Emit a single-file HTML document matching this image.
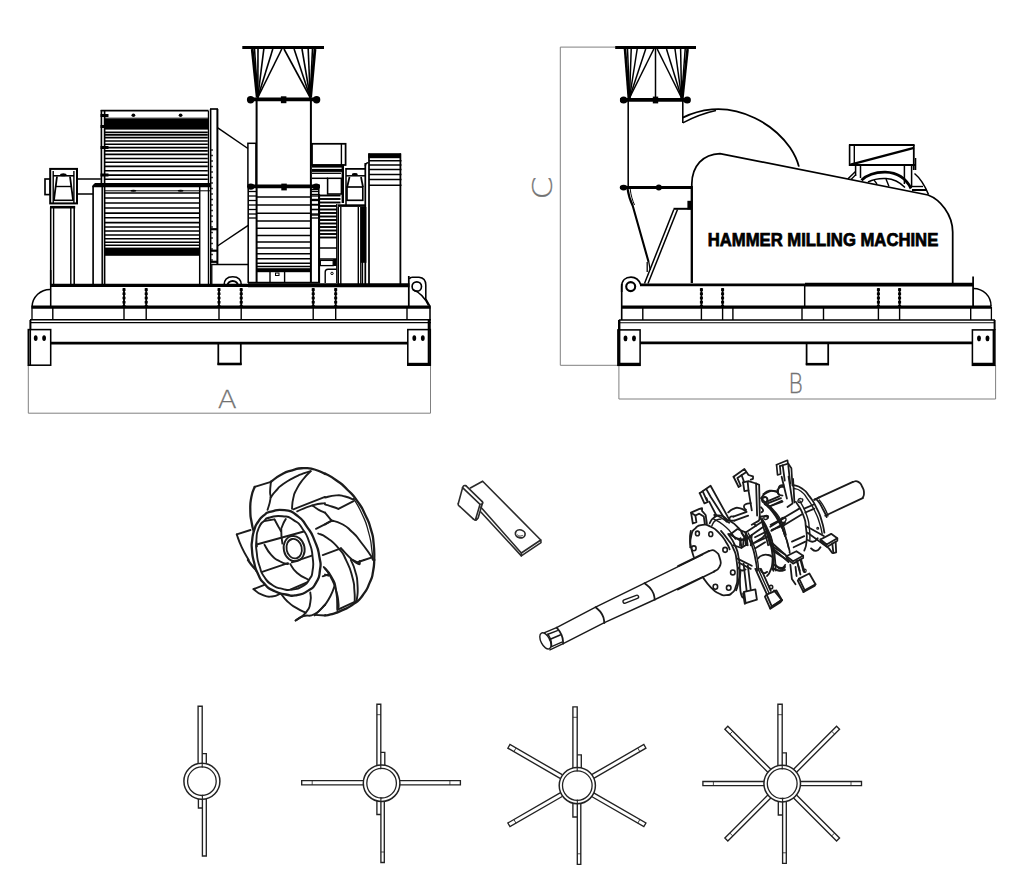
<!DOCTYPE html>
<html lang="en"><head><meta charset="utf-8"><title>Hammer Milling Machine</title>
<style>
html,body{margin:0;padding:0;background:#fff;}
body{width:1024px;height:893px;overflow:hidden;}
svg{display:block;}
svg *{vector-effect:none;}
.k{stroke:#000;fill:none;stroke-linecap:butt;stroke-linejoin:miter;}
.g{stroke:#808080;fill:none;stroke-width:1;}
.f{fill:#000;stroke:none;}
.w{fill:#fff;}
text{font-family:"Liberation Sans",sans-serif;}
</style></head><body>
<svg width="1024" height="893" viewBox="0 0 1024 893">
<rect x="0" y="0" width="1024" height="893" fill="#fff"/>
<g id="machineA">
<line class="g" x1="28.3" y1="365" x2="28.3" y2="413.2" stroke-width="1" />
<line class="g" x1="430.5" y1="365" x2="430.5" y2="413.2" stroke-width="1" />
<line class="g" x1="28.3" y1="413.2" x2="430.5" y2="413.2" stroke-width="1" />
<text transform="translate(227.3,407.8) scale(1.07,0.98)" x="0" y="0" text-anchor="middle" fill="#727272" stroke="#727272" stroke-width="0.3" style="font-family:'DejaVu Sans Light','DejaVu Sans','Liberation Sans',sans-serif;font-weight:200;font-size:26px">A</text>
<line class="k" x1="50" y1="285.3" x2="248" y2="285.3" stroke-width="3.2" />
<line class="k" x1="248" y1="285.2" x2="409.5" y2="285.2" stroke-width="4.1" />
<line class="k" x1="50.7" y1="270" x2="50.7" y2="307" stroke-width="1.55" />
<path class="k" d="M50.7,289.4 A18,18 0 0 0 32,307" stroke-width="1.5" />
<line class="k" x1="31.5" y1="307.15" x2="430.5" y2="307.15" stroke-width="3.2" />
<line class="k" x1="32" y1="307" x2="32" y2="320" stroke-width="1.3" />
<line class="k" x1="52.8" y1="307" x2="52.8" y2="320" stroke-width="1.4" />
<line class="k" x1="30" y1="319.85" x2="431" y2="319.85" stroke-width="1.5" />
<line class="k" x1="30" y1="322.65" x2="431" y2="322.65" stroke-width="1.15" />
<line class="k" x1="30.4" y1="320" x2="30.4" y2="330" stroke-width="2" />
<rect class="k" x="28.3" y="329.6" width="22.4" height="35.6" stroke-width="1.55"/>
<line class="k" x1="30.2" y1="329.6" x2="30.2" y2="365.2" stroke-width="1.75" />
<ellipse class="f" cx="35.7" cy="338.1" rx="1.9" ry="2.9"/>
<ellipse class="f" cx="44.1" cy="338.1" rx="1.9" ry="2.9"/>
<line class="k" x1="50.7" y1="343.1" x2="408" y2="343.1" stroke-width="2.6" />
<line class="k" x1="218.3" y1="344" x2="218.3" y2="365" stroke-width="1.75" />
<line class="k" x1="240.8" y1="344" x2="240.8" y2="365" stroke-width="1.75" />
<line class="k" x1="217.5" y1="364" x2="241.6" y2="364" stroke-width="2.6" />
<rect class="k" x="407.8" y="329.6" width="22.5" height="35.6" stroke-width="1.55"/>
<line class="k" x1="428.8" y1="320" x2="428.8" y2="365.2" stroke-width="2.2" />
<line class="k" x1="407.8" y1="364.2" x2="430.3" y2="364.2" stroke-width="2.8" />
<ellipse class="f" cx="414.3" cy="338.1" rx="1.9" ry="2.9"/>
<ellipse class="f" cx="422.8" cy="338.1" rx="1.9" ry="2.9"/>
<line class="k" x1="124" y1="288" x2="124" y2="306" stroke-width="1.9" />
<line class="k" x1="124" y1="288.3" x2="124" y2="306" stroke-width="3" stroke-dasharray="2.6 1.6"/>
<line class="k" x1="124" y1="308" x2="124" y2="320" stroke-width="1.4" />
<line class="k" x1="146.2" y1="288" x2="146.2" y2="306" stroke-width="1.9" />
<line class="k" x1="146.2" y1="288.3" x2="146.2" y2="306" stroke-width="3" stroke-dasharray="2.6 1.6"/>
<line class="k" x1="146.2" y1="308" x2="146.2" y2="320" stroke-width="1.4" />
<line class="k" x1="219" y1="288" x2="219" y2="306" stroke-width="1.9" />
<line class="k" x1="219" y1="288.3" x2="219" y2="306" stroke-width="3" stroke-dasharray="2.6 1.6"/>
<line class="k" x1="219" y1="308" x2="219" y2="320" stroke-width="1.4" />
<line class="k" x1="241.2" y1="288" x2="241.2" y2="306" stroke-width="1.9" />
<line class="k" x1="241.2" y1="288.3" x2="241.2" y2="306" stroke-width="3" stroke-dasharray="2.6 1.6"/>
<line class="k" x1="241.2" y1="308" x2="241.2" y2="320" stroke-width="1.4" />
<line class="k" x1="313.2" y1="288" x2="313.2" y2="306" stroke-width="1.9" />
<line class="k" x1="313.2" y1="288.3" x2="313.2" y2="306" stroke-width="3" stroke-dasharray="2.6 1.6"/>
<line class="k" x1="313.2" y1="308" x2="313.2" y2="320" stroke-width="1.4" />
<line class="k" x1="335.7" y1="288" x2="335.7" y2="306" stroke-width="1.9" />
<line class="k" x1="335.7" y1="288.3" x2="335.7" y2="306" stroke-width="3" stroke-dasharray="2.6 1.6"/>
<line class="k" x1="335.7" y1="308" x2="335.7" y2="320" stroke-width="1.4" />
<line class="k" x1="408.8" y1="276" x2="408.8" y2="307" stroke-width="1.75" />
<line class="k" x1="407" y1="308" x2="407" y2="320" stroke-width="1.4" />
<line class="k" x1="430" y1="307" x2="430" y2="330" stroke-width="1.55" />
<path class="k" d="M409.5,279 Q410,277 413,277.2 L419,277.2 Q425.8,278 425.8,285 L425.8,299 L430.3,307" stroke-width="1.55" />
<circle class="k" cx="416.8" cy="286.5" r="4.7" stroke-width="1.65"/>
<path class="k" d="M412.8,289.5 C419,292 425,298 428.5,305.5" stroke-width="1.5" />
<path class="k" d="M224,285.5 C224,279.2 227.6,276.8 232.7,276.8 C237.8,276.8 241.4,279.2 241.4,285.5" stroke-width="1.6" />
<path class="k" d="M227.6,285.5 A5.1,4.6 0 0 1 237.8,285.5" stroke-width="2.0" />
<rect class="k" x="50.2" y="168.9" width="26.8" height="34.5" stroke-width="2"/>
<rect class="k" x="45" y="179" width="5.2" height="15.6" stroke-width="1.65"/>
<line class="k" x1="53.2" y1="171" x2="53.2" y2="203" stroke-width="1.4" />
<line class="k" x1="73.9" y1="171" x2="73.9" y2="203" stroke-width="1.4" />
<line class="k" x1="53" y1="175.8" x2="74" y2="175.8" stroke-width="1.55" />
<ellipse class="f" cx="63.3" cy="174.8" rx="3.2" ry="1.5"/>
<line class="k" x1="57" y1="176.5" x2="53.9" y2="200.3" stroke-width="1.8" />
<line class="k" x1="70" y1="176.5" x2="73.1" y2="200.3" stroke-width="1.8" />
<line class="k" x1="55.5" y1="186.5" x2="71.5" y2="186.5" stroke-width="1.4" />
<line class="k" x1="53.5" y1="200.3" x2="73.5" y2="200.3" stroke-width="1.55" />
<line class="k" x1="77" y1="179" x2="100.8" y2="179" stroke-width="1.5" />
<line class="k" x1="77" y1="194" x2="93" y2="194" stroke-width="1.5" />
<line class="k" x1="50" y1="207.2" x2="75.2" y2="207.2" stroke-width="2.6" />
<line class="k" x1="53.6" y1="207" x2="53.6" y2="285" stroke-width="1.4" />
<line class="k" x1="50.7" y1="207" x2="50.7" y2="285" stroke-width="1.55" />
<line class="k" x1="70.8" y1="207" x2="70.8" y2="285" stroke-width="1.4" />
<line class="k" x1="74.2" y1="207" x2="74.2" y2="285" stroke-width="1.55" />
<line class="k" x1="101.4" y1="110" x2="101.4" y2="187" stroke-width="1.65" />
<line class="k" x1="104.6" y1="110" x2="104.6" y2="285" stroke-width="1.65" />
<line class="k" x1="100.7" y1="110.7" x2="208.5" y2="110.7" stroke-width="1.75" />
<line class="k" x1="105" y1="118.2" x2="208" y2="118.2" stroke-width="1" />
<rect class="f" x="105" y="118.8" width="103" height="10.8"/>
<line class="k" x1="105" y1="132.3" x2="207.8" y2="132.3" stroke-width="1.65" />
<line class="k" x1="105" y1="134.8" x2="207.8" y2="134.8" stroke-width="1.65" />
<line class="k" x1="105" y1="137.6" x2="207.8" y2="137.6" stroke-width="1.65" />
<line class="k" x1="105" y1="141" x2="207.8" y2="141" stroke-width="1.65" />
<line class="k" x1="105" y1="144.2" x2="207.8" y2="144.2" stroke-width="1.65" />
<line class="k" x1="105" y1="147.6" x2="207.8" y2="147.6" stroke-width="1.65" />
<line class="k" x1="105" y1="150.9" x2="207.8" y2="150.9" stroke-width="1.65" />
<line class="k" x1="105" y1="154.4" x2="207.8" y2="154.4" stroke-width="1.65" />
<line class="k" x1="105" y1="158.5" x2="207.8" y2="158.5" stroke-width="1.65" />
<line class="k" x1="105" y1="162.2" x2="207.8" y2="162.2" stroke-width="1.65" />
<line class="k" x1="105" y1="166.3" x2="207.8" y2="166.3" stroke-width="1.65" />
<line class="k" x1="105" y1="170.7" x2="207.8" y2="170.7" stroke-width="1.65" />
<line class="k" x1="105" y1="175.1" x2="207.8" y2="175.1" stroke-width="1.65" />
<line class="k" x1="105" y1="179.2" x2="207.8" y2="179.2" stroke-width="1.65" />
<path class="f" d="M92.4,188.5 L92.4,185.6 L95,183 L211,183 L211,187.3 L92.4,187.3 Z"/>
<ellipse class="f" cx="133.4" cy="115.2" rx="1.9" ry="1.7"/>
<ellipse class="f" cx="180.6" cy="115.2" rx="1.9" ry="1.7"/>
<rect class="f" x="100.5" y="114.0" width="8.0" height="3.0"/>
<rect class="f" x="100.5" y="125.0" width="8.0" height="3.0"/>
<rect class="f" x="100.5" y="146.0" width="8.0" height="3.0"/>
<rect class="f" x="100.5" y="173.5" width="8.0" height="3.0"/>
<line class="k" x1="208.4" y1="110.7" x2="208.4" y2="285" stroke-width="1.2" />
<line class="k" x1="210.6" y1="109" x2="210.6" y2="285" stroke-width="1.65" />
<line class="k" x1="217.4" y1="109" x2="217.4" y2="264.5" stroke-width="2.0" />
<line class="k" x1="211.8" y1="264" x2="211.8" y2="285" stroke-width="1.3" />
<line class="k" x1="210" y1="109" x2="218" y2="109" stroke-width="1.65" />
<line class="k" x1="211" y1="229.2" x2="217.4" y2="229.2" stroke-width="2.2" />
<line class="k" x1="211" y1="250.7" x2="217.4" y2="250.7" stroke-width="2.2" />
<line class="k" x1="211" y1="261.8" x2="217.4" y2="261.8" stroke-width="2.2" />
<line class="k" x1="211.2" y1="150" x2="212.8" y2="150" stroke-width="1.65" />
<line class="k" x1="211.2" y1="155.5" x2="212.8" y2="155.5" stroke-width="1.65" />
<line class="k" x1="211.2" y1="161.0" x2="212.8" y2="161.0" stroke-width="1.65" />
<line class="k" x1="211.2" y1="166.5" x2="212.8" y2="166.5" stroke-width="1.65" />
<line class="k" x1="211.2" y1="172.0" x2="212.8" y2="172.0" stroke-width="1.65" />
<line class="k" x1="211.2" y1="177.5" x2="212.8" y2="177.5" stroke-width="1.65" />
<line class="k" x1="211.2" y1="183.0" x2="212.8" y2="183.0" stroke-width="1.65" />
<line class="k" x1="211.2" y1="188.5" x2="212.8" y2="188.5" stroke-width="1.65" />
<line class="k" x1="211.2" y1="194.0" x2="212.8" y2="194.0" stroke-width="1.65" />
<line class="k" x1="211.2" y1="199.5" x2="212.8" y2="199.5" stroke-width="1.65" />
<line class="k" x1="211.2" y1="205.0" x2="212.8" y2="205.0" stroke-width="1.65" />
<line class="k" x1="211.2" y1="210.5" x2="212.8" y2="210.5" stroke-width="1.65" />
<line class="k" x1="211.2" y1="216.0" x2="212.8" y2="216.0" stroke-width="1.65" />
<line class="k" x1="211.2" y1="221.5" x2="212.8" y2="221.5" stroke-width="1.65" />
<line class="k" x1="211.2" y1="227.0" x2="212.8" y2="227.0" stroke-width="1.65" />
<line class="k" x1="211.2" y1="232.5" x2="212.8" y2="232.5" stroke-width="1.65" />
<line class="k" x1="211.2" y1="238.0" x2="212.8" y2="238.0" stroke-width="1.65" />
<line class="k" x1="211.2" y1="243.5" x2="212.8" y2="243.5" stroke-width="1.65" />
<line class="k" x1="211.2" y1="249.0" x2="212.8" y2="249.0" stroke-width="1.65" />
<line class="k" x1="211.2" y1="254.5" x2="212.8" y2="254.5" stroke-width="1.65" />
<line class="k" x1="211.2" y1="260.0" x2="212.8" y2="260.0" stroke-width="1.65" />
<line class="k" x1="93.1" y1="186" x2="93.1" y2="285" stroke-width="1.65" />
<line class="k" x1="199.7" y1="187" x2="199.7" y2="285" stroke-width="1.5" />
<line class="k" stroke="#777" x1="104.6" y1="190.8" x2="210.5" y2="190.8" stroke-width="1.0" />
<ellipse class="f" cx="133.4" cy="190.8" rx="3" ry="1"/>
<ellipse class="f" cx="180.6" cy="190.8" rx="3" ry="1"/>
<line class="k" x1="102.2" y1="187" x2="102.2" y2="285" stroke-width="1.5" />
<line class="k" x1="104.6" y1="192.9" x2="199.7" y2="192.9" stroke-width="1.55" />
<line class="k" x1="104.6" y1="197.9" x2="199.7" y2="197.9" stroke-width="1.55" />
<line class="k" x1="104.6" y1="203" x2="199.7" y2="203" stroke-width="1.55" />
<line class="k" x1="104.6" y1="208" x2="199.7" y2="208" stroke-width="1.55" />
<line class="k" x1="104.6" y1="213.1" x2="199.7" y2="213.1" stroke-width="1.55" />
<line class="k" x1="104.6" y1="217.8" x2="199.7" y2="217.8" stroke-width="1.55" />
<line class="k" x1="104.6" y1="222.6" x2="199.7" y2="222.6" stroke-width="1.55" />
<line class="k" x1="104.6" y1="226.9" x2="199.7" y2="226.9" stroke-width="1.55" />
<line class="k" x1="104.6" y1="231" x2="199.7" y2="231" stroke-width="1.55" />
<line class="k" x1="104.6" y1="235" x2="199.7" y2="235" stroke-width="1.55" />
<line class="k" x1="104.6" y1="238.7" x2="199.7" y2="238.7" stroke-width="1.55" />
<line class="k" x1="104.6" y1="242.2" x2="199.7" y2="242.2" stroke-width="1.55" />
<line class="k" x1="104.6" y1="245.3" x2="199.7" y2="245.3" stroke-width="1.55" />
<rect class="f" x="104.6" y="247.6" width="95.1" height="8.2"/>
<line class="k" x1="217.8" y1="127.8" x2="247.9" y2="148.5" stroke-width="1.5" />
<line class="k" x1="217.5" y1="246" x2="248.2" y2="225.3" stroke-width="1.5" />
<line class="k" x1="211.5" y1="264.4" x2="248.2" y2="264.4" stroke-width="1.5" />
<rect class="k" x="247.9" y="143.3" width="8.1" height="43.1" stroke-width="1.5"/>
<line class="k" x1="256.6" y1="99" x2="256.6" y2="283" stroke-width="2" />
<line class="k" x1="310.9" y1="99" x2="310.9" y2="283" stroke-width="2" />
<line class="k" x1="248.5" y1="99.4" x2="319.5" y2="99.4" stroke-width="3.8" />
<ellipse class="f" cx="250.6" cy="99.8" rx="3.7" ry="3.7"/>
<ellipse class="f" cx="316.6" cy="99.8" rx="3.7" ry="3.7"/>
<rect class="f" x="280.9" y="96.3" width="5.5" height="6.9"/>
<line class="k" x1="248" y1="186.4" x2="320" y2="186.4" stroke-width="3.6" />
<ellipse class="f" cx="250.8" cy="186.6" rx="3.6" ry="3.2"/>
<ellipse class="f" cx="316.2" cy="186.6" rx="3.6" ry="3.2"/>
<rect class="f" x="281.3" y="183.6" width="5.5" height="6.8"/>
<line class="k" x1="242.3" y1="47.6" x2="324" y2="47.6" stroke-width="3" />
<line class="k" x1="252.2" y1="49" x2="257.2" y2="97.5" stroke-width="2.8" />
<line class="k" x1="315" y1="49" x2="310.6" y2="97.5" stroke-width="2.8" />
<line class="k" x1="254.5" y1="49" x2="257.8" y2="97.5" stroke-width="1.6" />
<line class="k" x1="258" y1="49" x2="257.8" y2="97.5" stroke-width="1.6" />
<line class="k" x1="263.8" y1="49" x2="257.8" y2="97.5" stroke-width="1.6" />
<line class="k" x1="272.8" y1="49" x2="257.8" y2="97.5" stroke-width="1.6" />
<line class="k" x1="281.8" y1="49" x2="257.8" y2="97.5" stroke-width="1.6" />
<line class="k" x1="284" y1="49" x2="310.2" y2="97.5" stroke-width="1.6" />
<line class="k" x1="294.1" y1="49" x2="310.2" y2="97.5" stroke-width="1.6" />
<line class="k" x1="302" y1="49" x2="310.2" y2="97.5" stroke-width="1.6" />
<line class="k" x1="308.2" y1="49" x2="310.2" y2="97.5" stroke-width="1.6" />
<line class="k" x1="312.5" y1="49" x2="310.2" y2="97.5" stroke-width="1.6" />
<line class="k" x1="248.2" y1="186" x2="248.2" y2="283" stroke-width="1.55" />
<line class="k" x1="318.8" y1="186" x2="318.8" y2="283" stroke-width="1.55" />
<line class="k" x1="256.6" y1="197" x2="310.9" y2="197" stroke-width="1.5" />
<line class="k" x1="256.6" y1="205" x2="310.9" y2="205" stroke-width="1.5" />
<line class="k" x1="256.6" y1="213.3" x2="310.9" y2="213.3" stroke-width="1.5" />
<line class="k" x1="256.6" y1="221" x2="310.9" y2="221" stroke-width="1.5" />
<line class="k" x1="256.6" y1="228.3" x2="310.9" y2="228.3" stroke-width="1.5" />
<line class="k" x1="256.6" y1="235.5" x2="310.9" y2="235.5" stroke-width="1.5" />
<line class="k" x1="256.6" y1="242" x2="310.9" y2="242" stroke-width="1.5" />
<line class="k" x1="256.6" y1="248" x2="310.9" y2="248" stroke-width="1.5" />
<line class="k" x1="256.6" y1="253.7" x2="310.9" y2="253.7" stroke-width="1.5" />
<line class="k" x1="256.6" y1="258.8" x2="310.9" y2="258.8" stroke-width="1.5" />
<line class="k" x1="256.6" y1="263.2" x2="310.9" y2="263.2" stroke-width="1.5" />
<line class="k" x1="256.6" y1="266.6" x2="310.9" y2="266.6" stroke-width="1.5" />
<rect class="f" x="256.6" y="268.2" width="54.3" height="4.0"/>
<line class="k" x1="248.2" y1="191.5" x2="256.6" y2="191.5" stroke-width="1.3" />
<line class="k" x1="310.9" y1="191.5" x2="318.8" y2="191.5" stroke-width="1.3" />
<line class="k" x1="248.2" y1="196" x2="256.6" y2="196" stroke-width="1.3" />
<line class="k" x1="310.9" y1="196" x2="318.8" y2="196" stroke-width="1.3" />
<line class="k" x1="248.2" y1="200.5" x2="256.6" y2="200.5" stroke-width="1.3" />
<line class="k" x1="310.9" y1="200.5" x2="318.8" y2="200.5" stroke-width="1.3" />
<line class="k" x1="248.2" y1="205" x2="256.6" y2="205" stroke-width="1.3" />
<line class="k" x1="310.9" y1="205" x2="318.8" y2="205" stroke-width="1.3" />
<line class="k" x1="248.2" y1="209.5" x2="256.6" y2="209.5" stroke-width="1.3" />
<line class="k" x1="310.9" y1="209.5" x2="318.8" y2="209.5" stroke-width="1.3" />
<line class="k" x1="248.2" y1="214" x2="256.6" y2="214" stroke-width="1.3" />
<line class="k" x1="310.9" y1="214" x2="318.8" y2="214" stroke-width="1.3" />
<line class="k" x1="248.2" y1="218" x2="256.6" y2="218" stroke-width="1.3" />
<line class="k" x1="310.9" y1="218" x2="318.8" y2="218" stroke-width="1.3" />
<line class="k" x1="270" y1="272" x2="270" y2="283" stroke-width="1.4" />
<line class="k" x1="284.6" y1="272" x2="284.6" y2="283" stroke-width="1.4" />
<line class="k" x1="248" y1="282.6" x2="320" y2="282.6" stroke-width="1.75" />
<rect class="k" x="275.5" y="273" width="3.5" height="2.5" stroke-width="1"/>
<rect class="k" x="312" y="143.8" width="33.6" height="21.2" stroke-width="1.75"/>
<line class="k" x1="341.4" y1="144" x2="341.4" y2="165" stroke-width="1.4" />
<rect class="f" x="312" y="164.4" width="32" height="3.2"/>
<rect class="f" x="312" y="168.9" width="32" height="3.0"/>
<line class="k" x1="312" y1="173.3" x2="341" y2="173.3" stroke-width="1.3" />
<line class="k" x1="312" y1="178.3" x2="328" y2="178.3" stroke-width="1.5" />
<rect class="k" x="327.6" y="178.3" width="13.8" height="15.7" stroke-width="1.55"/>
<line class="k" x1="342.8" y1="165" x2="342.8" y2="203" stroke-width="2.4" />
<line class="k" x1="311" y1="189.5" x2="318.8" y2="189.5" stroke-width="1.4" />
<line class="k" x1="311" y1="194.5" x2="318.8" y2="194.5" stroke-width="1.4" />
<line class="k" x1="311" y1="199.5" x2="318.8" y2="199.5" stroke-width="1.4" />
<line class="k" x1="311" y1="204.5" x2="318.8" y2="204.5" stroke-width="1.4" />
<line class="k" x1="311" y1="209.5" x2="318.8" y2="209.5" stroke-width="1.4" />
<line class="k" x1="311" y1="215" x2="318.8" y2="215" stroke-width="1.4" />
<line class="k" x1="319.6" y1="195.5" x2="340.5" y2="195.5" stroke-width="1.9" />
<line class="k" x1="319.6" y1="199.0" x2="340.5" y2="199.0" stroke-width="1.9" />
<line class="k" x1="319.6" y1="202.5" x2="340.5" y2="202.5" stroke-width="1.9" />
<line class="k" x1="319.6" y1="206" x2="337" y2="206" stroke-width="1.9" />
<line class="k" x1="319.6" y1="209.5" x2="337" y2="209.5" stroke-width="1.9" />
<line class="k" x1="319.6" y1="213.0" x2="337" y2="213.0" stroke-width="1.9" />
<line class="k" x1="319.6" y1="216.5" x2="337" y2="216.5" stroke-width="1.9" />
<line class="k" x1="319.6" y1="220.0" x2="337" y2="220.0" stroke-width="1.9" />
<line class="k" x1="319.6" y1="223.5" x2="337" y2="223.5" stroke-width="1.9" />
<line class="k" x1="319.6" y1="227.0" x2="337" y2="227.0" stroke-width="1.9" />
<line class="k" x1="319.6" y1="230.5" x2="337" y2="230.5" stroke-width="1.9" />
<line class="k" x1="319.6" y1="234.0" x2="337" y2="234.0" stroke-width="1.9" />
<line class="k" x1="319.6" y1="237.5" x2="337" y2="237.5" stroke-width="1.9" />
<line class="k" x1="319.4" y1="194" x2="319.4" y2="283" stroke-width="1.4" />
<line class="k" x1="336.8" y1="204" x2="336.8" y2="283" stroke-width="1.4" />
<line class="k" x1="319.6" y1="248" x2="337" y2="248" stroke-width="1.5" />
<line class="k" x1="319.6" y1="259" x2="337" y2="259" stroke-width="1.5" />
<rect class="k" x="320.3" y="260.4" width="12.9" height="5.2" stroke-width="1.3"/>
<rect class="f" x="333.2" y="259" width="3.3" height="7"/>
<path class="k" d="M325.2,283 L325.2,272 Q325.2,269.2 328,269.2 L336.5,269.2" stroke-width="1.4" />
<circle class="k" cx="332" cy="273.4" r="1.2" stroke-width="1"/>
<line class="k" x1="345.6" y1="168.9" x2="365.5" y2="168.9" stroke-width="1.75" />
<line class="k" x1="346" y1="175.8" x2="365" y2="175.8" stroke-width="1.5" />
<ellipse class="f" cx="354.8" cy="174.4" rx="3" ry="1.4"/>
<line class="k" x1="349.5" y1="177" x2="347.2" y2="187" stroke-width="1.75" />
<line class="k" x1="361" y1="177" x2="363" y2="187" stroke-width="1.75" />
<rect class="k" x="347" y="187" width="15.8" height="13.3" stroke-width="1.65"/>
<line class="k" x1="338" y1="205.6" x2="366" y2="205.6" stroke-width="2.6" />
<line class="k" x1="346" y1="168" x2="346" y2="205" stroke-width="1.5" />
<line class="k" x1="365.3" y1="163" x2="365.3" y2="285" stroke-width="1.75" />
<path class="k" d="M365.3,166 Q365.5,162.8 368.3,162.6" stroke-width="1.4" />
<line class="k" x1="338.3" y1="207" x2="338.3" y2="285" stroke-width="1.4" />
<line class="k" x1="340.8" y1="207" x2="340.8" y2="285" stroke-width="1.4" />
<line class="k" x1="358.3" y1="207" x2="358.3" y2="285" stroke-width="1.4" />
<line class="k" x1="360.8" y1="207" x2="360.8" y2="285" stroke-width="1.4" />
<rect class="f" x="360.8" y="207" width="5.6" height="55.8"/>
<line class="k" x1="362.5" y1="262" x2="362.5" y2="285" stroke-width="1.3" />
<line class="k" x1="369" y1="153.5" x2="369" y2="285" stroke-width="1.75" />
<line class="k" x1="400.4" y1="153.5" x2="400.4" y2="285" stroke-width="1.8" />
<rect class="f" x="368.3" y="153.2" width="32.7" height="5.0"/>
<line class="k" x1="369" y1="160.8" x2="401.5" y2="160.8" stroke-width="1.5" />
<line class="k" x1="369" y1="165.1" x2="401.5" y2="165.1" stroke-width="1.5" />
<line class="k" x1="369" y1="169.6" x2="401.5" y2="169.6" stroke-width="1.5" />
<line class="k" x1="369" y1="174.5" x2="401.5" y2="174.5" stroke-width="1.5" />
<line class="k" x1="369" y1="179.6" x2="401.5" y2="179.6" stroke-width="1.5" />
<line class="k" x1="369" y1="185.2" x2="401.5" y2="185.2" stroke-width="1.5" />
</g>
<g id="machineB">
<line class="g" x1="560.3" y1="47.1" x2="560.3" y2="365.3" stroke-width="1" />
<line class="g" x1="560.3" y1="47.1" x2="615.5" y2="47.1" stroke-width="1" />
<line class="g" x1="560.3" y1="365.3" x2="618.9" y2="365.3" stroke-width="1" />
<line class="g" x1="618.9" y1="365.3" x2="618.9" y2="399" stroke-width="1" />
<line class="g" x1="995.6" y1="365.3" x2="995.6" y2="399" stroke-width="1" />
<line class="g" x1="618.9" y1="399" x2="995.6" y2="399" stroke-width="1" />
<text transform="translate(795.5,393) scale(0.88,1.03)" x="0" y="0" text-anchor="middle" fill="#727272" stroke="#727272" stroke-width="0.3" style="font-family:'DejaVu Sans Light','DejaVu Sans','Liberation Sans',sans-serif;font-weight:200;font-size:25.5px">B</text>
<text transform="translate(551.6,187.9) rotate(-90) scale(1.22,0.97)" x="0" y="0" text-anchor="middle" fill="#727272" stroke="#727272" stroke-width="0.3" style="font-family:'DejaVu Sans Light','DejaVu Sans','Liberation Sans',sans-serif;font-weight:200;font-size:27px">C</text>
<line class="k" x1="640" y1="284.8" x2="805" y2="284.8" stroke-width="2.7" />
<line class="k" x1="805" y1="284.6" x2="973" y2="284.6" stroke-width="3.6" />
<line class="k" x1="621.7" y1="284" x2="621.7" y2="320" stroke-width="1.65" />
<line class="k" x1="621.5" y1="307.15" x2="991.6" y2="307.15" stroke-width="3.2" />
<line class="k" x1="618.9" y1="319.9" x2="995" y2="319.9" stroke-width="1.5" />
<line class="k" x1="618.9" y1="322.7" x2="995" y2="322.7" stroke-width="1.15" />
<rect class="k" x="617.9" y="329.9" width="22.2" height="35.4" stroke-width="1.55"/>
<line class="k" x1="619.2" y1="320" x2="619.2" y2="365.3" stroke-width="2.4" />
<line class="k" x1="617.9" y1="364.2" x2="640.1" y2="364.2" stroke-width="2.9" />
<ellipse class="f" cx="625.5" cy="338.4" rx="1.9" ry="2.8"/>
<ellipse class="f" cx="634" cy="338.4" rx="1.9" ry="2.8"/>
<line class="k" x1="640.1" y1="342.9" x2="972.4" y2="342.9" stroke-width="2.6" />
<path class="k" d="M621.7,292 L621.7,286.5 C621.7,280.5 625.5,277.2 631,277.2 C636,277.2 639,280 640.8,284.7" stroke-width="1.7" />
<circle class="k" cx="630.7" cy="286.6" r="4.5" stroke-width="2.1"/>
<line class="k" x1="642.8" y1="308" x2="642.8" y2="320" stroke-width="1.4" />
<line class="k" x1="701.4" y1="308" x2="701.4" y2="320" stroke-width="1.4" />
<line class="k" x1="722.6" y1="308" x2="722.6" y2="320" stroke-width="1.4" />
<line class="k" x1="732.9" y1="308" x2="732.9" y2="320" stroke-width="1.4" />
<line class="k" x1="802" y1="308" x2="802" y2="320" stroke-width="1.4" />
<line class="k" x1="823.5" y1="308" x2="823.5" y2="320" stroke-width="1.4" />
<line class="k" x1="878.4" y1="308" x2="878.4" y2="320" stroke-width="1.4" />
<line class="k" x1="899.6" y1="308" x2="899.6" y2="320" stroke-width="1.4" />
<line class="k" x1="970.7" y1="308" x2="970.7" y2="320" stroke-width="1.4" />
<line class="k" x1="701.4" y1="288" x2="701.4" y2="306" stroke-width="1.9" />
<line class="k" x1="701.4" y1="288.3" x2="701.4" y2="306" stroke-width="3" stroke-dasharray="2.6 1.6"/>
<line class="k" x1="722.6" y1="288" x2="722.6" y2="306" stroke-width="1.9" />
<line class="k" x1="722.6" y1="288.3" x2="722.6" y2="306" stroke-width="3" stroke-dasharray="2.6 1.6"/>
<line class="k" x1="878.4" y1="288" x2="878.4" y2="306" stroke-width="1.9" />
<line class="k" x1="878.4" y1="288.3" x2="878.4" y2="306" stroke-width="3" stroke-dasharray="2.6 1.6"/>
<line class="k" x1="899.6" y1="288" x2="899.6" y2="306" stroke-width="1.9" />
<line class="k" x1="899.6" y1="288.3" x2="899.6" y2="306" stroke-width="3" stroke-dasharray="2.6 1.6"/>
<line class="k" x1="804.7" y1="285" x2="804.7" y2="307" stroke-width="1.5" />
<line class="k" x1="973.1" y1="276.6" x2="973.1" y2="307" stroke-width="1.75" />
<path class="k" d="M973.6,288.4 A17.5,17.5 0 0 1 991,306" stroke-width="1.5" />
<line class="k" x1="991.4" y1="307" x2="991.4" y2="320" stroke-width="1.3" />
<line class="k" x1="994.6" y1="320" x2="994.6" y2="330" stroke-width="2" />
<rect class="k" x="972.4" y="329.9" width="22.5" height="35.4" stroke-width="1.55"/>
<line class="k" x1="993.7" y1="329.9" x2="993.7" y2="365.3" stroke-width="2.2" />
<line class="k" x1="972.4" y1="364.2" x2="994.9" y2="364.2" stroke-width="2.9" />
<ellipse class="f" cx="979" cy="338.4" rx="1.9" ry="2.8"/>
<ellipse class="f" cx="987.5" cy="338.4" rx="1.9" ry="2.8"/>
<line class="k" x1="806.6" y1="344" x2="806.6" y2="365" stroke-width="1.75" />
<line class="k" x1="828.2" y1="344" x2="828.2" y2="365" stroke-width="1.75" />
<line class="k" x1="805.8" y1="364.2" x2="829" y2="364.2" stroke-width="2.6" />
<line class="k" x1="615.2" y1="47.6" x2="696" y2="47.6" stroke-width="3" />
<line class="k" x1="625" y1="49" x2="628.8" y2="98.4" stroke-width="2.6" />
<line class="k" x1="687.6" y1="49" x2="682.4" y2="98.4" stroke-width="2.6" />
<line class="k" x1="655.5" y1="49" x2="655.5" y2="98" stroke-width="1.5" />
<line class="k" x1="627.5" y1="49" x2="629.5" y2="98" stroke-width="1.5" />
<line class="k" x1="631.2" y1="49" x2="629.5" y2="98" stroke-width="1.5" />
<line class="k" x1="637.2" y1="49" x2="629.5" y2="98" stroke-width="1.5" />
<line class="k" x1="645.7" y1="49" x2="629.5" y2="98" stroke-width="1.5" />
<line class="k" x1="653.8" y1="49" x2="629.5" y2="98" stroke-width="1.5" />
<line class="k" x1="657.2" y1="49" x2="681.6" y2="98" stroke-width="1.5" />
<line class="k" x1="666.5" y1="49" x2="681.6" y2="98" stroke-width="1.5" />
<line class="k" x1="675" y1="49" x2="681.6" y2="98" stroke-width="1.5" />
<line class="k" x1="680.6" y1="49" x2="681.6" y2="98" stroke-width="1.5" />
<line class="k" x1="685.2" y1="49" x2="681.6" y2="98" stroke-width="1.5" />
<line class="k" x1="620" y1="99.8" x2="690" y2="99.8" stroke-width="3.8" />
<ellipse class="f" cx="623.6" cy="100" rx="3.7" ry="3.6"/>
<ellipse class="f" cx="687.2" cy="100" rx="3.7" ry="3.6"/>
<rect class="f" x="652.8" y="96.6" width="5.4" height="6.8"/>
<line class="k" x1="628.2" y1="99" x2="628.2" y2="188" stroke-width="1.55" />
<line class="k" x1="682.8" y1="99" x2="682.8" y2="123" stroke-width="1.55" />
<path class="k" d="M682.8,117.6 C690,114 700,110.6 712,109.4 C740,107 772,122 790,147.5 C794,153.5 797.5,161 798.9,166.6" stroke-width="1.8" />
<path class="k" d="M682.8,122.8 C692,118 702,113.5 716,110.5" stroke-width="1.4" />
<path class="k" d="M691.8,283 L691.8,184 C692,166 703,154 720,153.6 L928,195 C940,199.5 952.5,214 952.7,232 L952.7,283" stroke-width="1.75" />
<line class="k" x1="691.8" y1="186" x2="691.8" y2="283" stroke-width="2.2" />
<line class="k" x1="620" y1="187.5" x2="691.5" y2="187.5" stroke-width="3" />
<ellipse class="f" cx="623.6" cy="187.6" rx="3.8" ry="2.8"/>
<ellipse class="f" cx="658.8" cy="187.6" rx="3" ry="3"/>
<path class="k" d="M627.6,189 C628.5,196 630.5,201 632.8,206 L648.6,262" stroke-width="2.1" />
<line class="k" x1="647.2" y1="262" x2="647.2" y2="272" stroke-width="1.3" />
<line class="k" x1="648.8" y1="262" x2="650.2" y2="270" stroke-width="1.3" />
<path class="k" d="M630.2,189 C631,196 632.5,200 634.5,205" stroke-width="1.0" />
<line class="k" x1="673.8" y1="209.5" x2="644.5" y2="283.5" stroke-width="1.5" />
<line class="k" x1="677.5" y1="209.5" x2="648" y2="283.5" stroke-width="1.5" />
<line class="k" x1="673.5" y1="208.8" x2="691" y2="208.8" stroke-width="2" />
<rect class="f" x="687.4" y="200.8" width="4.4" height="8.7"/>
<line class="k" x1="849" y1="145" x2="914.6" y2="145" stroke-width="2" />
<line class="k" x1="849.5" y1="165" x2="915.5" y2="165" stroke-width="2.2" />
<line class="k" x1="849.6" y1="144.5" x2="849.6" y2="166" stroke-width="1.65" />
<line class="k" x1="854.3" y1="145" x2="854.3" y2="165" stroke-width="1.4" />
<line class="k" x1="913.8" y1="145" x2="913.8" y2="170" stroke-width="1.8" />
<line class="k" x1="915.6" y1="158" x2="915.6" y2="170" stroke-width="1.4" />
<line class="k" x1="850.5" y1="164.6" x2="914" y2="147.8" stroke-width="2.4" />
<line class="k" x1="855.6" y1="166" x2="855.6" y2="176" stroke-width="1.5" />
<line class="k" x1="860.5" y1="166" x2="860.5" y2="178" stroke-width="1.5" />
<line class="k" x1="904.4" y1="166" x2="904.4" y2="184" stroke-width="1.5" />
<line class="k" x1="911.6" y1="166" x2="911.6" y2="186" stroke-width="1.5" />
<path class="k" d="M861.5,180.3 C868,174 876,172 885.5,172.2 C897,172.6 906,178.5 911,188.5" stroke-width="2.8" />
<path class="k" d="M868,182 C874,179 880,178.3 886,178.6 C893,179 899,181.5 905,187.5" stroke-width="1.5" />
<line class="k" x1="886" y1="179" x2="889" y2="186.5" stroke-width="1.4" />
<line class="k" x1="874" y1="180" x2="877" y2="184" stroke-width="1.3" />
<path class="k" d="M848,178.8 L855.5,171.5" stroke-width="1.5" />
<path class="k" d="M851,179.5 L856,174.5" stroke-width="1.3" />
<path class="k" d="M914.5,173.5 C920,178 925,186 928.5,194.5" stroke-width="1.55" />
<line class="k" x1="911" y1="186.5" x2="923" y2="186.5" stroke-width="1.4" />
<line class="k" x1="912" y1="190" x2="927" y2="190" stroke-width="2" />
<text x="707.7" y="245.5" textLength="230.6" lengthAdjust="spacingAndGlyphs" fill="#000" stroke="#000" stroke-width="0.75" style="font-family:'Liberation Sans',sans-serif;font-weight:bold;font-size:18.2px">HAMMER MILLING MACHINE</text>
</g>
<g id="impeller">
<path d="M270.9,481.8 C274.3,479.5 273.9,478.6 281.0,474.8 C288.1,470.9 284.7,472.5 292.2,470.3 C299.7,468.1 295.9,468.4 303.4,468.2 C310.9,467.9 307.4,467.6 314.6,469.5 C321.8,471.5 321.5,472.5 325.0,474.0" fill="none" stroke="#1c1c1c" stroke-width="2.3" stroke-linecap="round" stroke-linejoin="round"/>
<path d="M270.91,481.84 L254.68,486.88" fill="none" stroke="#1c1c1c" stroke-width="1.9" stroke-linecap="round" stroke-linejoin="round"/>
<path d="M254.7,486.9 C253.6,490.2 252.9,489.1 251.4,496.9 C250.0,504.8 250.2,501.8 250.3,510.4 C250.4,519.0 250.5,515.6 251.7,522.7 C252.8,529.8 253.1,528.7 253.9,531.7" fill="none" stroke="#1c1c1c" stroke-width="2.3" stroke-linecap="round" stroke-linejoin="round"/>
<path d="M270.9,481.8 C270.7,485.0 270.3,485.6 270.1,491.4 C269.9,497.1 271.2,493.0 270.4,499.2 C269.5,505.3 268.5,506.3 267.6,509.8" fill="none" stroke="#1c1c1c" stroke-width="1.9" stroke-linecap="round" stroke-linejoin="round"/>
<path d="M270.7,497.5 C272.3,495.5 271.2,495.8 275.4,491.4 C279.6,486.9 276.9,488.7 283.2,484.1 C289.6,479.4 287.7,480.9 294.4,477.4 C301.1,473.8 298.0,475.5 303.4,473.4 C308.8,471.4 308.2,471.9 310.7,471.2" fill="none" stroke="#1c1c1c" stroke-width="1.9" stroke-linecap="round" stroke-linejoin="round"/>
<path d="M310.7,471.2 C308.2,473.8 308.1,473.1 303.4,479.0 C298.7,485.0 300.0,482.8 296.7,489.1 C293.3,495.5 294.9,491.5 293.3,498.1 C291.7,504.6 292.4,505.2 292.0,508.7" fill="none" stroke="#1c1c1c" stroke-width="1.9" stroke-linecap="round" stroke-linejoin="round"/>
<path d="M325.0,496.95 L293.31,509.27" fill="none" stroke="#1c1c1c" stroke-width="1.9" stroke-linecap="round" stroke-linejoin="round"/>
<path d="M325.0,503.1 C320.8,503.9 321.6,502.6 312.4,505.4 C303.1,508.1 302.3,509.3 297.2,511.3" fill="none" stroke="#1c1c1c" stroke-width="1.9" stroke-linecap="round" stroke-linejoin="round"/>
<path d="M312.4,505.4 C314.2,506.7 313.7,506.8 317.9,509.3 C322.2,511.7 322.6,511.5 325.0,512.6" fill="none" stroke="#1c1c1c" stroke-width="1.9" stroke-linecap="round" stroke-linejoin="round"/>
<path d="M236.76,534.47 L250.53,529.99" fill="none" stroke="#1c1c1c" stroke-width="1.9" stroke-linecap="round" stroke-linejoin="round"/>
<path d="M236.8,534.5 C238.4,538.8 237.8,538.8 241.8,547.4 C245.8,555.9 246.4,555.8 248.7,560.0" fill="none" stroke="#1c1c1c" stroke-width="1.9" stroke-linecap="round" stroke-linejoin="round"/>
<path d="M254.3,532.2 C254.8,534.3 254.9,533.6 255.8,538.4 C256.7,543.1 256.5,543.8 256.9,546.5" fill="none" stroke="#1c1c1c" stroke-width="1.9" stroke-linecap="round" stroke-linejoin="round"/>
<path d="M264.19,521.03 L274.27,519.35" fill="none" stroke="#1c1c1c" stroke-width="1.9" stroke-linecap="round" stroke-linejoin="round"/>
<path d="M325.0,473.4 C328.7,475.7 328.7,474.7 336.2,480.2 C343.7,485.6 340.3,482.6 347.4,489.7 C354.5,496.8 351.5,493.0 357.5,501.4 C363.4,509.8 360.8,505.5 365.3,514.9 C369.8,524.2 368.1,519.7 370.9,529.4 C373.7,539.1 372.6,533.8 373.7,544.0 C374.8,554.2 374.1,554.7 374.3,560.0" fill="none" stroke="#1c1c1c" stroke-width="2.3" stroke-linecap="round" stroke-linejoin="round"/>
<path d="M353.6,498.6 C356.4,503.7 357.0,502.7 361.9,513.8 C366.9,524.8 365.2,519.7 368.4,531.7 C371.7,543.6 370.5,540.1 371.8,549.6 C373.2,559.0 372.3,556.5 372.5,560.0" fill="none" stroke="#1c1c1c" stroke-width="1.3" stroke-linecap="round" stroke-linejoin="round"/>
<path d="M325.0,497.5 C328.7,496.8 329.5,495.7 336.2,495.4 C342.9,495.1 339.5,495.2 345.2,496.5 C350.8,497.9 350.5,498.4 353.2,499.4" fill="none" stroke="#1c1c1c" stroke-width="1.9" stroke-linecap="round" stroke-linejoin="round"/>
<path d="M353.56,501.21 L338.44,508.82" fill="none" stroke="#1c1c1c" stroke-width="1.9" stroke-linecap="round" stroke-linejoin="round"/>
<path d="M338.4,508.8 C336.2,508.0 336.2,508.0 331.7,506.5 C327.2,505.0 327.2,505.1 325.0,504.3" fill="none" stroke="#1c1c1c" stroke-width="1.9" stroke-linecap="round" stroke-linejoin="round"/>
<path d="M325.0,512.63 L331.16,520.13" fill="none" stroke="#1c1c1c" stroke-width="1.9" stroke-linecap="round" stroke-linejoin="round"/>
<path d="M331.49,520.47 L325.0,524.39" fill="none" stroke="#1c1c1c" stroke-width="1.9" stroke-linecap="round" stroke-linejoin="round"/>
<path d="M331.5,520.5 C334.9,521.7 335.0,520.3 341.8,524.0 C348.6,527.8 345.5,525.7 351.9,531.7 C358.2,537.6 354.9,534.4 360.8,542.0 C366.8,549.5 365.9,548.7 369.8,554.3 C373.7,559.9 371.7,557.3 372.6,558.8" fill="none" stroke="#1c1c1c" stroke-width="1.9" stroke-linecap="round" stroke-linejoin="round"/>
<path d="M364.19,560.0 L372.03,557.42" fill="none" stroke="#1c1c1c" stroke-width="1.9" stroke-linecap="round" stroke-linejoin="round"/>
<path d="M248.0,560.0 C249.9,562.6 249.2,562.5 253.9,567.8 C258.6,573.1 255.9,569.9 261.9,575.9 C268.0,581.9 268.7,582.6 272.0,586.0" fill="none" stroke="#1c1c1c" stroke-width="2.3" stroke-linecap="round" stroke-linejoin="round"/>
<path d="M267.55,583.52 L253.56,589.12" fill="none" stroke="#1c1c1c" stroke-width="1.9" stroke-linecap="round" stroke-linejoin="round"/>
<path d="M253.6,589.1 C256.4,591.0 255.8,592.2 261.9,594.7 C268.1,597.2 266.0,596.9 272.0,596.5 C278.1,596.1 277.4,594.6 280.1,593.6" fill="none" stroke="#1c1c1c" stroke-width="1.9" stroke-linecap="round" stroke-linejoin="round"/>
<path d="M281.0,593.6 C283.2,596.3 282.5,596.8 287.7,601.7 C292.9,606.5 290.7,604.5 296.7,608.1 C302.6,611.8 302.6,611.1 305.6,612.6" fill="none" stroke="#1c1c1c" stroke-width="1.9" stroke-linecap="round" stroke-linejoin="round"/>
<path d="M310.3,592.5 C310.3,595.8 311.8,595.8 310.3,602.5 C308.8,609.3 310.8,606.7 305.9,612.6 C300.9,618.6 299.0,617.9 295.6,620.5" fill="none" stroke="#1c1c1c" stroke-width="1.9" stroke-linecap="round" stroke-linejoin="round"/>
<path d="M295.6,620.5 C298.2,619.1 297.0,618.4 303.4,616.2 C309.7,614.1 307.4,617.8 314.6,614.0 C321.8,610.2 321.5,607.9 325.0,604.8" fill="none" stroke="#1c1c1c" stroke-width="1.9" stroke-linecap="round" stroke-linejoin="round"/>
<path d="M314.59,614.87 L325.0,615.43" fill="none" stroke="#1c1c1c" stroke-width="1.9" stroke-linecap="round" stroke-linejoin="round"/>
<path d="M374.3,560.0 C373.9,563.7 374.6,563.7 373.1,571.2 C371.7,578.7 373.2,574.6 369.8,582.4 C366.4,590.2 368.3,587.6 363.1,594.7 C357.8,601.8 361.2,598.4 354.1,603.7 C347.0,608.9 349.6,606.8 341.8,610.4 C334.0,614.0 336.2,612.8 330.6,614.4 C325.0,616.1 326.9,615.0 325.0,615.3" fill="none" stroke="#1c1c1c" stroke-width="2.3" stroke-linecap="round" stroke-linejoin="round"/>
<path d="M350.8,560.0 C352.3,563.7 353.0,563.0 355.2,571.2 C357.5,579.4 356.9,575.7 357.5,584.6 C358.1,593.6 357.8,592.4 357.0,598.1 C356.3,603.7 355.8,600.5 355.2,601.7" fill="none" stroke="#1c1c1c" stroke-width="1.9" stroke-linecap="round" stroke-linejoin="round"/>
<path d="M355.24,601.66 L338.44,609.27" fill="none" stroke="#1c1c1c" stroke-width="1.9" stroke-linecap="round" stroke-linejoin="round"/>
<path d="M325.0,568.4 C326.9,571.2 327.1,569.9 330.6,576.8 C334.1,583.7 333.0,580.5 335.6,589.1 C338.3,597.7 337.7,595.8 338.4,602.5 C339.2,609.3 338.1,607.0 337.9,609.3" fill="none" stroke="#1c1c1c" stroke-width="1.9" stroke-linecap="round" stroke-linejoin="round"/>
<path d="M325.0,574.56 L328.36,575.68" fill="none" stroke="#1c1c1c" stroke-width="1.9" stroke-linecap="round" stroke-linejoin="round"/>
<path d="M325.0,604.8 C326.9,601.8 327.4,602.1 330.6,595.8 C333.8,589.6 333.2,589.3 334.5,586.0" fill="none" stroke="#1c1c1c" stroke-width="1.9" stroke-linecap="round" stroke-linejoin="round"/>
<path d="M353.0,560.0 L357.47,562.24 L364.19,560.0" fill="none" stroke="#1c1c1c" stroke-width="1.9" stroke-linecap="round" stroke-linejoin="round"/>
<path d="M325.0,604.79 L314.59,615.43" fill="none" stroke="#1c1c1c" stroke-width="1.9" stroke-linecap="round" stroke-linejoin="round"/>
<path d="M318.2,533.5 C321.2,535.0 320.5,533.1 327.2,538.0 C333.9,542.9 332.0,540.6 338.4,548.1 C344.7,555.5 341.6,550.7 346.2,560.4 C350.9,570.1 349.7,567.1 352.4,577.2 C355.1,587.3 353.6,582.5 354.4,590.6 C355.2,598.8 354.6,597.9 354.7,601.6" fill="none" stroke="#1c1c1c" stroke-width="1.9" stroke-linecap="round" stroke-linejoin="round"/>
<path d="M322.71,555.02 L340.85,548.3" fill="none" stroke="#1c1c1c" stroke-width="1.9" stroke-linecap="round" stroke-linejoin="round"/>
<path d="M322.71,576.29 L328.53,574.39" fill="none" stroke="#1c1c1c" stroke-width="1.9" stroke-linecap="round" stroke-linejoin="round"/>
<path d="M323.8,567.1 C326.4,570.5 327.6,569.4 331.7,577.2 C335.8,585.0 334.3,579.7 336.1,590.6 C338.0,601.6 336.9,603.5 337.3,610.0" fill="none" stroke="#1c1c1c" stroke-width="1.9" stroke-linecap="round" stroke-linejoin="round"/>
<path d="M340.9,548.3 C345.9,553.1 349.6,558.4 356.0,562.6 C362.4,566.8 358.7,561.5 360.0,561.0" fill="none" stroke="#1c1c1c" stroke-width="1.9" stroke-linecap="round" stroke-linejoin="round"/>
<path d="M315.99,528.81 L331.67,520.86" fill="none" stroke="#1c1c1c" stroke-width="1.9" stroke-linecap="round" stroke-linejoin="round"/>
<path d="M252.2,540.0 C253.0,533.3 252.4,536.0 254.3,530.0 C256.2,524.0 254.7,527.0 258.0,522.0 C261.3,517.0 259.8,518.6 264.2,515.1 C268.6,511.6 264.4,513.2 271.2,511.6 C278.0,510.0 276.0,508.9 284.6,510.2 C293.2,511.5 289.5,510.0 297.0,515.5 C304.5,521.0 301.0,518.2 307.0,526.8 C313.0,535.4 310.8,531.3 314.9,541.4 C319.0,551.5 317.7,547.3 319.4,557.0 C321.1,566.7 321.0,561.9 319.9,570.5 C318.8,579.1 319.9,576.1 316.0,582.8 C312.1,589.5 314.5,586.5 308.2,590.6 C301.9,594.7 304.5,593.8 297.0,595.1 C289.5,596.4 293.7,596.0 285.8,594.5 C277.9,593.0 280.5,594.1 273.4,590.6 C266.3,587.1 269.6,589.4 264.5,583.9 C259.4,578.4 261.5,581.3 258.0,574.0 C254.5,566.7 256.0,570.0 254.0,562.0 C252.0,554.0 252.6,557.3 252.0,550.0 C251.4,542.7 251.4,546.7 252.2,540.0 Z M256.4,540.0 C257.1,531.7 256.1,534.4 258.8,528.0 C261.5,521.6 260.7,524.2 264.4,520.7 C268.1,517.2 264.0,519.0 270.0,517.5 C276.0,516.0 274.5,515.3 282.4,516.2 C290.3,517.1 286.9,515.8 293.6,520.1 C300.3,524.4 297.4,521.5 302.6,529.0 C307.8,536.5 306.0,533.2 309.3,542.5 C312.6,551.8 311.5,547.7 312.6,557.0 C313.7,566.3 313.7,563.0 312.6,570.5 C311.5,578.0 312.6,574.2 309.3,579.4 C306.0,584.6 308.2,582.7 302.6,586.1 C297.0,589.5 299.2,588.6 292.5,589.5 C285.8,590.4 289.1,590.4 282.4,588.9 C275.7,587.4 278.3,588.9 272.3,585.0 C266.3,581.1 268.8,583.5 264.5,577.2 C260.2,570.9 262.1,574.1 259.5,566.0 C256.9,557.9 257.8,561.7 256.8,553.0 C255.8,544.3 255.7,548.3 256.4,540.0 Z" fill="#fff" fill-rule="evenodd" stroke="none"/>
<clipPath id="impin"><path d="M256.4,540.0 C257.1,531.7 256.1,534.4 258.8,528.0 C261.5,521.6 260.7,524.2 264.4,520.7 C268.1,517.2 264.0,519.0 270.0,517.5 C276.0,516.0 274.5,515.3 282.4,516.2 C290.3,517.1 286.9,515.8 293.6,520.1 C300.3,524.4 297.4,521.5 302.6,529.0 C307.8,536.5 306.0,533.2 309.3,542.5 C312.6,551.8 311.5,547.7 312.6,557.0 C313.7,566.3 313.7,563.0 312.6,570.5 C311.5,578.0 312.6,574.2 309.3,579.4 C306.0,584.6 308.2,582.7 302.6,586.1 C297.0,589.5 299.2,588.6 292.5,589.5 C285.8,590.4 289.1,590.4 282.4,588.9 C275.7,587.4 278.3,588.9 272.3,585.0 C266.3,581.1 268.8,583.5 264.5,577.2 C260.2,570.9 262.1,574.1 259.5,566.0 C256.9,557.9 257.8,561.7 256.8,553.0 C255.8,544.3 255.7,548.3 256.4,540.0 Z"/></clipPath>
<g clip-path="url(#impin)"><ellipse cx="294.15" cy="548.63" rx="10.41" ry="12.77" transform="rotate(-12 294.15 548.63)" fill="none" stroke="#1c1c1c" stroke-width="1.9"/>
<ellipse cx="294.15" cy="548.63" rx="7.61" ry="9.85" transform="rotate(-12 294.15 548.63)" fill="none" stroke="#1c1c1c" stroke-width="1.8"/>
<path d="M256.64,544.49 L304.79,531.28" fill="none" stroke="#1c1c1c" stroke-width="1.9" stroke-linecap="round" stroke-linejoin="round"/>
<path d="M255.52,574.17 L288.0,563.19" fill="none" stroke="#1c1c1c" stroke-width="1.9" stroke-linecap="round" stroke-linejoin="round"/>
<path d="M291.91,562.41 L312.63,555.35" fill="none" stroke="#1c1c1c" stroke-width="1.9" stroke-linecap="round" stroke-linejoin="round"/>
<path d="M288.0,590.63 L308.15,581.89" fill="none" stroke="#1c1c1c" stroke-width="1.9" stroke-linecap="round" stroke-linejoin="round"/>
<path d="M264.5,544.7 C266.7,548.1 266.0,549.2 271.2,554.8 C276.4,560.4 274.6,558.4 280.2,561.5 C285.8,564.6 285.4,563.2 288.0,564.0" fill="none" stroke="#1c1c1c" stroke-width="1.9" stroke-linecap="round" stroke-linejoin="round"/>
<path d="M274.6,519.5 C275.7,521.6 275.8,521.8 277.9,525.7 C280.0,529.5 279.9,529.3 280.8,531.0" fill="none" stroke="#1c1c1c" stroke-width="1.9" stroke-linecap="round" stroke-linejoin="round"/>
<path d="M285.8,519.0 C284.6,521.2 283.9,521.4 282.4,525.7 C280.9,530.0 281.3,525.9 281.3,531.8 C281.3,537.8 282.0,539.7 282.4,543.6" fill="none" stroke="#1c1c1c" stroke-width="1.9" stroke-linecap="round" stroke-linejoin="round"/>
<path d="M290.2,564.0 C292.5,566.9 291.0,567.5 296.9,572.7 C302.9,577.9 304.4,577.3 308.1,579.6" fill="none" stroke="#1c1c1c" stroke-width="1.9" stroke-linecap="round" stroke-linejoin="round"/>
<path d="M280.2,593.1 C282.8,595.3 282.4,595.9 288.0,599.6 C293.6,603.3 290.6,600.8 296.9,604.3 C303.3,607.8 303.7,608.1 307.0,610.0" fill="none" stroke="#1c1c1c" stroke-width="1.9" stroke-linecap="round" stroke-linejoin="round"/>
<path d="M309.3,590.9 C309.7,593.8 310.6,593.2 310.6,599.6 C310.6,606.0 309.7,606.5 309.3,610.0" fill="none" stroke="#1c1c1c" stroke-width="1.9" stroke-linecap="round" stroke-linejoin="round"/></g>
<path d="M252.2,540.0 C253.0,533.3 252.4,536.0 254.3,530.0 C256.2,524.0 254.7,527.0 258.0,522.0 C261.3,517.0 259.8,518.6 264.2,515.1 C268.6,511.6 264.4,513.2 271.2,511.6 C278.0,510.0 276.0,508.9 284.6,510.2 C293.2,511.5 289.5,510.0 297.0,515.5 C304.5,521.0 301.0,518.2 307.0,526.8 C313.0,535.4 310.8,531.3 314.9,541.4 C319.0,551.5 317.7,547.3 319.4,557.0 C321.1,566.7 321.0,561.9 319.9,570.5 C318.8,579.1 319.9,576.1 316.0,582.8 C312.1,589.5 314.5,586.5 308.2,590.6 C301.9,594.7 304.5,593.8 297.0,595.1 C289.5,596.4 293.7,596.0 285.8,594.5 C277.9,593.0 280.5,594.1 273.4,590.6 C266.3,587.1 269.6,589.4 264.5,583.9 C259.4,578.4 261.5,581.3 258.0,574.0 C254.5,566.7 256.0,570.0 254.0,562.0 C252.0,554.0 252.6,557.3 252.0,550.0 C251.4,542.7 251.4,546.7 252.2,540.0 Z" fill="none" stroke="#1c1c1c" stroke-width="2.3" stroke-linecap="round" stroke-linejoin="round"/>
<path d="M256.4,540.0 C257.1,531.7 256.1,534.4 258.8,528.0 C261.5,521.6 260.7,524.2 264.4,520.7 C268.1,517.2 264.0,519.0 270.0,517.5 C276.0,516.0 274.5,515.3 282.4,516.2 C290.3,517.1 286.9,515.8 293.6,520.1 C300.3,524.4 297.4,521.5 302.6,529.0 C307.8,536.5 306.0,533.2 309.3,542.5 C312.6,551.8 311.5,547.7 312.6,557.0 C313.7,566.3 313.7,563.0 312.6,570.5 C311.5,578.0 312.6,574.2 309.3,579.4 C306.0,584.6 308.2,582.7 302.6,586.1 C297.0,589.5 299.2,588.6 292.5,589.5 C285.8,590.4 289.1,590.4 282.4,588.9 C275.7,587.4 278.3,588.9 272.3,585.0 C266.3,581.1 268.8,583.5 264.5,577.2 C260.2,570.9 262.1,574.1 259.5,566.0 C256.9,557.9 257.8,561.7 256.8,553.0 C255.8,544.3 255.7,548.3 256.4,540.0 Z" fill="none" stroke="#1c1c1c" stroke-width="1.9" stroke-linecap="round" stroke-linejoin="round"/>
</g>
<g id="hammer">
<path d="M470.33,488.03 L482.64,481.19 L540.75,539.98 L521.33,552.97 L480.86,507.17" fill="none" stroke="#2a2a2a" stroke-width="1.6" stroke-linecap="round" stroke-linejoin="round"/>
<path d="M480.86,511.96 L521.33,555.84 L541.02,542.58 L540.75,539.98" fill="none" stroke="#2a2a2a" stroke-width="1.6" stroke-linecap="round" stroke-linejoin="round"/>
<path d="M521.33,552.97 L521.33,555.84" fill="none" stroke="#2a2a2a" stroke-width="1.6" stroke-linecap="round" stroke-linejoin="round"/>
<ellipse cx="520.24" cy="533.83" rx="4.92" ry="3.96" transform="rotate(15 520.24 533.83)" fill="none" stroke="#2a2a2a" stroke-width="1.7"/>
<path d="M517.5,534.9 C518.2,535.3 518.0,535.8 519.5,536.0 C521.1,536.2 521.4,535.7 522.3,535.5" fill="none" stroke="#2a2a2a" stroke-width="1.0" stroke-linecap="round" stroke-linejoin="round"/>
<path d="M462.5,487.6 C463.0,487.0 462.8,486.3 463.9,485.7 C465.0,485.1 465.2,485.7 465.8,485.7" fill="none" stroke="#2a2a2a" stroke-width="1.6" stroke-linecap="round" stroke-linejoin="round"/>
<path d="M465.82,485.7 L482.23,501.56" fill="none" stroke="#2a2a2a" stroke-width="1.6" stroke-linecap="round" stroke-linejoin="round"/>
<path d="M482.2,501.6 C482.4,502.0 483.0,502.0 482.8,502.9 C482.6,503.8 482.0,503.8 481.7,504.3" fill="none" stroke="#2a2a2a" stroke-width="1.6" stroke-linecap="round" stroke-linejoin="round"/>
<path d="M463.09,488.17 L480.04,504.3" fill="none" stroke="#2a2a2a" stroke-width="1.6" stroke-linecap="round" stroke-linejoin="round"/>
<path d="M462.54,487.89 L458.3,503.48" fill="none" stroke="#2a2a2a" stroke-width="1.6" stroke-linecap="round" stroke-linejoin="round"/>
<path d="M458.3,503.5 C458.3,504.0 457.9,504.1 458.4,505.1 C458.9,506.1 459.4,506.0 459.8,506.5" fill="none" stroke="#2a2a2a" stroke-width="1.6" stroke-linecap="round" stroke-linejoin="round"/>
<path d="M459.81,506.49 L473.48,519.06" fill="none" stroke="#2a2a2a" stroke-width="1.6" stroke-linecap="round" stroke-linejoin="round"/>
<path d="M473.5,519.1 C474.1,519.4 474.2,520.2 475.4,520.2 C476.6,520.1 476.5,519.2 477.0,518.8" fill="none" stroke="#2a2a2a" stroke-width="1.6" stroke-linecap="round" stroke-linejoin="round"/>
<path d="M480.04,504.3 L475.67,519.06" fill="none" stroke="#2a2a2a" stroke-width="1.6" stroke-linecap="round" stroke-linejoin="round"/>
<path d="M482.37,503.48 L478.13,517.97 L476.49,519.61" fill="none" stroke="#2a2a2a" stroke-width="1.6" stroke-linecap="round" stroke-linejoin="round"/>
</g>
<g id="rotor">
<ellipse cx="545.44" cy="640.89" rx="4.48" ry="8.8" transform="rotate(-27 545.44 640.89)" fill="none" stroke="#1a1a1a" stroke-width="1.4"/>
<path d="M544.61,632.59 L556.56,627.61 L595.57,607.19 L644.54,583.12 L702.64,554.57" fill="none" stroke="#1a1a1a" stroke-width="1.45" stroke-linecap="round" stroke-linejoin="round"/>
<path d="M549.92,649.85 L563.2,643.71 L603.87,622.96 L654.5,599.72 L702.64,576.81" fill="none" stroke="#1a1a1a" stroke-width="1.45" stroke-linecap="round" stroke-linejoin="round"/>
<path d="M556.6,627.6 C558.2,630.0 559.3,629.5 561.5,634.9 C563.8,640.3 562.6,640.8 563.2,643.7" fill="none" stroke="#1a1a1a" stroke-width="1.8" stroke-linecap="round" stroke-linejoin="round"/>
<path d="M595.6,607.2 C597.7,609.6 599.1,609.1 602.0,614.3 C605.0,619.6 603.6,620.1 604.4,623.0" fill="none" stroke="#1a1a1a" stroke-width="1.8" stroke-linecap="round" stroke-linejoin="round"/>
<path d="M644.5,583.1 C647.0,585.6 648.6,585.1 652.0,590.6 C655.4,596.1 653.9,596.7 654.8,599.7" fill="none" stroke="#1a1a1a" stroke-width="1.8" stroke-linecap="round" stroke-linejoin="round"/>
<rect x="-8.2" y="-1.7" width="16.4" height="3.4" rx="1.7" fill="none" stroke="#1a1a1a" stroke-width="1.4" transform="translate(630.8 599.2) rotate(-21)"/>
<path d="M547.93,634.25 L557.39,630.6" fill="none" stroke="#1a1a1a" stroke-width="1.4" stroke-linecap="round" stroke-linejoin="round"/>
<path d="M549.59,639.56 L560.21,634.91" fill="none" stroke="#1a1a1a" stroke-width="1.6" stroke-linecap="round" stroke-linejoin="round"/>
<path d="M551.58,646.53 L561.87,642.22" fill="none" stroke="#1a1a1a" stroke-width="1.4" stroke-linecap="round" stroke-linejoin="round"/>
<path d="M547.9,634.2 C548.9,636.1 549.5,635.8 550.8,639.9 C552.0,644.0 551.3,644.3 551.6,646.5" fill="none" stroke="#1a1a1a" stroke-width="1.4" stroke-linecap="round" stroke-linejoin="round"/>
<path d="M690.8,530.9 C690.5,533.6 689.9,533.6 690.0,539.1 C690.1,544.6 689.8,541.3 691.1,547.3 C692.3,553.3 692.9,553.8 693.8,557.0" fill="none" stroke="#1a1a1a" stroke-width="1.8" stroke-linecap="round" stroke-linejoin="round"/>
<path d="M703.1,577.6 C705.6,580.8 705.5,582.0 710.8,587.3 C716.1,592.6 713.8,590.9 719.0,593.5 C724.1,596.0 721.7,595.4 726.1,595.1 C730.6,594.8 729.0,595.6 732.3,592.6 C735.5,589.7 734.2,591.8 735.9,586.3 C737.6,580.7 737.2,584.6 737.4,576.0 C737.7,567.5 738.0,569.9 736.6,560.6 C735.2,551.4 736.4,555.5 733.3,548.3 C730.2,541.2 731.5,544.9 727.4,539.1 C723.3,533.3 723.1,533.6 721.0,530.9" fill="none" stroke="#1a1a1a" stroke-width="1.8" stroke-linecap="round" stroke-linejoin="round"/>
<path d="M728.2,534.0 C730.4,537.7 731.4,537.4 734.9,545.2 C738.3,553.1 737.1,549.4 738.6,557.6 C740.2,565.8 739.5,562.0 739.5,569.9 C739.5,577.7 739.7,574.3 738.6,581.1 C737.6,588.0 737.0,587.3 736.2,590.4" fill="none" stroke="#1a1a1a" stroke-width="1.8" stroke-linecap="round" stroke-linejoin="round"/>
<ellipse cx="693.84" cy="548.33" rx="2.26" ry="2.46" transform="rotate(0 693.84 548.33)" fill="none" stroke="#1a1a1a" stroke-width="1.6"/>
<ellipse cx="725.12" cy="549.87" rx="2.26" ry="2.46" transform="rotate(0 725.12 549.87)" fill="none" stroke="#1a1a1a" stroke-width="1.6"/>
<ellipse cx="732.81" cy="572.43" rx="2.26" ry="2.46" transform="rotate(0 732.81 572.43)" fill="none" stroke="#1a1a1a" stroke-width="1.6"/>
<ellipse cx="715.38" cy="586.78" rx="2.26" ry="2.46" transform="rotate(0 715.38 586.78)" fill="none" stroke="#1a1a1a" stroke-width="1.6"/>
<ellipse cx="728.71" cy="587.81" rx="2.26" ry="2.46" transform="rotate(0 728.71 587.81)" fill="none" stroke="#1a1a1a" stroke-width="1.6"/>
<path d="M677.95,566.07 L709.22,550.89" fill="none" stroke="#1a1a1a" stroke-width="1.8" stroke-linecap="round" stroke-linejoin="round"/>
<path d="M677.95,589.55 L713.84,571.71" fill="none" stroke="#1a1a1a" stroke-width="1.8" stroke-linecap="round" stroke-linejoin="round"/>
<path d="M709.2,550.9 C711.3,551.1 711.8,548.7 715.4,551.4 C719.0,554.1 718.6,554.0 720.0,559.1 C721.4,564.2 721.5,562.6 719.5,566.8 C717.4,571.0 715.7,570.1 713.8,571.7" fill="none" stroke="#1a1a1a" stroke-width="1.8" stroke-linecap="round" stroke-linejoin="round"/>
<path d="M743.58,563.71 L746.65,590.89" fill="none" stroke="#1a1a1a" stroke-width="1.8" stroke-linecap="round" stroke-linejoin="round"/>
<path d="M747.88,565.76 L750.75,589.86" fill="none" stroke="#1a1a1a" stroke-width="1.8" stroke-linecap="round" stroke-linejoin="round"/>
<path d="M744.09,591.91 L755.37,589.35 L756.91,599.6 L745.63,603.19 Z" fill="none" stroke="#1a1a1a" stroke-width="1.8" stroke-linecap="round" stroke-linejoin="round"/>
<path d="M744.09,591.91 L743.06,593.65 L744.81,603.91 L745.63,603.19" fill="none" stroke="#1a1a1a" stroke-width="1.8" stroke-linecap="round" stroke-linejoin="round"/>
<path d="M740.5,570.9 C740.3,575.3 739.6,576.0 740.0,584.2 C740.3,592.4 740.2,591.4 741.5,595.5 C742.9,599.6 743.2,596.2 744.1,596.5" fill="none" stroke="#1a1a1a" stroke-width="1.8" stroke-linecap="round" stroke-linejoin="round"/>
<path d="M755.37,568.84 L767.16,594.99" fill="none" stroke="#1a1a1a" stroke-width="1.8" stroke-linecap="round" stroke-linejoin="round"/>
<path d="M761.01,568.84 L770.75,590.89" fill="none" stroke="#1a1a1a" stroke-width="1.8" stroke-linecap="round" stroke-linejoin="round"/>
<path d="M758.14,568.84 L769.01,592.94" fill="none" stroke="#1a1a1a" stroke-width="1.4" stroke-linecap="round" stroke-linejoin="round"/>
<path d="M766.65,594.68 L776.39,590.37 L782.03,600.11 L771.78,606.27 Z" fill="none" stroke="#1a1a1a" stroke-width="1.8" stroke-linecap="round" stroke-linejoin="round"/>
<path d="M766.65,594.68 L764.91,596.53 L770.24,608.63 L771.78,606.27" fill="none" stroke="#1a1a1a" stroke-width="1.8" stroke-linecap="round" stroke-linejoin="round"/>
<path d="M770.24,608.63 L780.49,602.17 L782.03,600.11" fill="none" stroke="#1a1a1a" stroke-width="1.8" stroke-linecap="round" stroke-linejoin="round"/>
<ellipse cx="771.06" cy="587.09" rx="1.64" ry="1.85" transform="rotate(0 771.06 587.09)" fill="none" stroke="#1a1a1a" stroke-width="1.6"/>
<path d="M745.6,533.0 C747.7,537.1 748.4,536.0 751.8,545.2 C755.1,554.5 753.9,552.1 755.7,560.6 C757.5,569.2 756.6,567.5 757.1,570.9" fill="none" stroke="#1a1a1a" stroke-width="1.8" stroke-linecap="round" stroke-linejoin="round"/>
<path d="M748.2,533.0 C750.1,537.1 750.8,536.4 753.8,545.2 C756.9,554.1 755.9,551.4 757.4,559.6 C759.0,567.8 758.1,566.4 758.5,569.9" fill="none" stroke="#1a1a1a" stroke-width="1.4" stroke-linecap="round" stroke-linejoin="round"/>
<path d="M767.2,533.0 C768.5,537.7 769.5,538.1 771.3,547.3 C773.0,556.5 772.8,552.8 772.5,560.6 C772.1,568.5 772.1,565.8 770.2,570.9 C768.4,576.0 768.1,574.3 767.0,576.0" fill="none" stroke="#1a1a1a" stroke-width="1.8" stroke-linecap="round" stroke-linejoin="round"/>
<path d="M769.4,533.0 C770.7,537.7 771.7,538.1 773.3,547.3 C774.9,556.5 774.5,553.1 774.1,560.6 C773.8,568.2 772.9,566.8 772.3,569.9" fill="none" stroke="#1a1a1a" stroke-width="1.4" stroke-linecap="round" stroke-linejoin="round"/>
<path d="M729.22,533.97 L740.5,540.64 L745.63,538.08 L741.53,532.95" fill="none" stroke="#1a1a1a" stroke-width="1.8" stroke-linecap="round" stroke-linejoin="round"/>
<path d="M740.5,540.64 L741.53,547.82 L745.63,545.25 L745.63,538.08" fill="none" stroke="#1a1a1a" stroke-width="1.8" stroke-linecap="round" stroke-linejoin="round"/>
<path d="M733.32,545.25 L741.53,547.82" fill="none" stroke="#1a1a1a" stroke-width="1.8" stroke-linecap="round" stroke-linejoin="round"/>
<path d="M751.78,544.23 L762.03,538.08 L765.11,535.0" fill="none" stroke="#1a1a1a" stroke-width="1.8" stroke-linecap="round" stroke-linejoin="round"/>
<path d="M755.37,548.33 L765.11,542.18" fill="none" stroke="#1a1a1a" stroke-width="1.8" stroke-linecap="round" stroke-linejoin="round"/>
<path d="M757.9,558.6 C759.3,557.6 758.6,556.7 762.0,555.5 C765.5,554.3 764.8,554.5 768.2,555.0 C771.6,555.5 770.9,556.4 772.3,557.0" fill="none" stroke="#1a1a1a" stroke-width="1.8" stroke-linecap="round" stroke-linejoin="round"/>
<path d="M772.29,546.28 L785.0,554.48" fill="none" stroke="#1a1a1a" stroke-width="1.8" stroke-linecap="round" stroke-linejoin="round"/>
<path d="M772.29,550.38 L785.0,558.58" fill="none" stroke="#1a1a1a" stroke-width="1.8" stroke-linecap="round" stroke-linejoin="round"/>
<path d="M775.4,564.7 C777.1,566.1 777.3,568.2 780.5,568.8 C783.7,569.5 783.5,567.5 785.0,566.8" fill="none" stroke="#1a1a1a" stroke-width="1.8" stroke-linecap="round" stroke-linejoin="round"/>
<path d="M774.3,568.8 C776.1,569.5 775.9,570.5 779.5,570.9 C783.0,571.2 783.2,570.2 785.0,569.9" fill="none" stroke="#1a1a1a" stroke-width="1.8" stroke-linecap="round" stroke-linejoin="round"/>
<path d="M737.42,558.58 L751.78,565.76" fill="none" stroke="#1a1a1a" stroke-width="1.8" stroke-linecap="round" stroke-linejoin="round"/>
<path d="M738.96,562.69 L750.75,568.84" fill="none" stroke="#1a1a1a" stroke-width="1.8" stroke-linecap="round" stroke-linejoin="round"/>
<path d="M738.5,567.8 C739.5,568.7 739.1,569.9 741.5,570.4 C743.9,570.9 744.3,569.7 745.6,569.4" fill="none" stroke="#1a1a1a" stroke-width="1.8" stroke-linecap="round" stroke-linejoin="round"/>
<path d="M760.0,568.8 C761.0,570.2 760.7,571.9 763.1,572.9 C765.5,574.0 765.8,572.3 767.2,571.9" fill="none" stroke="#1a1a1a" stroke-width="1.8" stroke-linecap="round" stroke-linejoin="round"/>
<path d="M690.2,547.3 C690.6,543.4 689.6,541.8 691.3,535.5 C693.0,529.2 691.6,531.8 695.4,528.3 C699.1,524.8 697.4,525.4 702.6,524.9 C707.7,524.4 705.3,524.1 710.8,526.8 C716.2,529.4 713.8,527.8 719.0,532.9 C724.1,538.1 722.6,536.7 726.1,542.2 C729.7,547.6 728.5,546.9 729.7,549.3" fill="none" stroke="#1a1a1a" stroke-width="1.8" stroke-linecap="round" stroke-linejoin="round"/>
<path d="M709.7,523.2 C711.1,521.4 710.1,520.3 713.8,517.8 C717.6,515.3 716.2,514.8 721.0,515.7 C725.8,516.7 725.8,519.0 728.2,520.6" fill="none" stroke="#1a1a1a" stroke-width="1.8" stroke-linecap="round" stroke-linejoin="round"/>
<path d="M711.8,525.8 C713.0,524.0 712.3,522.9 715.4,520.6 C718.5,518.4 719.1,519.6 721.0,519.1" fill="none" stroke="#1a1a1a" stroke-width="1.4" stroke-linecap="round" stroke-linejoin="round"/>
<ellipse cx="697.43" cy="533.45" rx="1.95" ry="2.36" transform="rotate(0 697.43 533.45)" fill="none" stroke="#1a1a1a" stroke-width="1.6"/>
<ellipse cx="710.76" cy="534.16" rx="1.95" ry="2.36" transform="rotate(0 710.76 534.16)" fill="none" stroke="#1a1a1a" stroke-width="1.6"/>
<path d="M706.87,523.5 L705.64,514.99 L702.05,510.89 L702.05,508.12 L699.48,508.84 L691.07,512.63 L692.82,523.5 L696.41,522.17 L695.38,515.5 L699.28,513.65 L703.79,516.53 L704.82,523.91" fill="none" stroke="#1a1a1a" stroke-width="1.8" stroke-linecap="round" stroke-linejoin="round"/>
<path d="M695.38,515.5 L691.07,512.63" fill="none" stroke="#1a1a1a" stroke-width="1.8" stroke-linecap="round" stroke-linejoin="round"/>
<path d="M699.69,493.15 L710.56,485.76 L729.02,519.09" fill="none" stroke="#1a1a1a" stroke-width="1.8" stroke-linecap="round" stroke-linejoin="round"/>
<path d="M699.69,493.15 L704.41,503.4 L707.89,501.96 L706.46,498.07" fill="none" stroke="#1a1a1a" stroke-width="1.8" stroke-linecap="round" stroke-linejoin="round"/>
<path d="M702.76,491.4 L706.87,500.63" fill="none" stroke="#1a1a1a" stroke-width="1.8" stroke-linecap="round" stroke-linejoin="round"/>
<path d="M706.46,489.35 L710.76,497.04 L726.66,521.65" fill="none" stroke="#1a1a1a" stroke-width="1.8" stroke-linecap="round" stroke-linejoin="round"/>
<path d="M709.22,501.66 L716.4,515.5" fill="none" stroke="#1a1a1a" stroke-width="1.8" stroke-linecap="round" stroke-linejoin="round"/>
<path d="M733.53,476.74 L744.4,469.05 L748.5,475.0 L753.01,476.33 L753.01,478.79 L750.75,479.61" fill="none" stroke="#1a1a1a" stroke-width="1.8" stroke-linecap="round" stroke-linejoin="round"/>
<path d="M733.53,476.74 L738.65,486.99 L740.71,485.76 L737.42,478.07 L745.63,472.43" fill="none" stroke="#1a1a1a" stroke-width="1.8" stroke-linecap="round" stroke-linejoin="round"/>
<path d="M741.53,475.0 L743.78,481.15" fill="none" stroke="#1a1a1a" stroke-width="1.8" stroke-linecap="round" stroke-linejoin="round"/>
<path d="M743.06,482.48 L748.5,481.15 L756.09,483.51 L759.16,484.94 L759.78,516.53" fill="none" stroke="#1a1a1a" stroke-width="1.8" stroke-linecap="round" stroke-linejoin="round"/>
<path d="M743.06,482.48 L744.4,491.1 L748.5,490.38 L747.68,481.87" fill="none" stroke="#1a1a1a" stroke-width="1.8" stroke-linecap="round" stroke-linejoin="round"/>
<path d="M748.5,490.38 L751.78,510.37" fill="none" stroke="#1a1a1a" stroke-width="1.8" stroke-linecap="round" stroke-linejoin="round"/>
<path d="M756.09,483.51 L757.11,515.5" fill="none" stroke="#1a1a1a" stroke-width="1.8" stroke-linecap="round" stroke-linejoin="round"/>
<path d="M728.2,512.4 C729.9,511.2 729.6,510.3 733.3,508.8 C737.1,507.4 735.4,507.4 739.5,508.1 C743.6,508.8 743.6,510.0 745.6,510.9" fill="none" stroke="#1a1a1a" stroke-width="1.8" stroke-linecap="round" stroke-linejoin="round"/>
<path d="M761.0,498.1 C763.1,496.2 762.4,494.7 767.2,492.4 C771.9,490.2 771.4,490.7 775.4,491.4 C779.3,492.1 777.8,493.5 779.0,494.5" fill="none" stroke="#1a1a1a" stroke-width="1.8" stroke-linecap="round" stroke-linejoin="round"/>
<ellipse cx="765.11" cy="500.12" rx="2.67" ry="2.87" transform="rotate(0 765.11 500.12)" fill="none" stroke="#1a1a1a" stroke-width="1.4"/>
<path d="M750.8,503.2 C749.0,503.5 747.9,502.9 745.6,504.2 C743.4,505.6 743.9,505.4 744.1,507.3 C744.3,509.2 745.5,509.0 746.1,509.9" fill="none" stroke="#1a1a1a" stroke-width="1.8" stroke-linecap="round" stroke-linejoin="round"/>
<path d="M778.4,488.8 C779.0,487.8 778.3,487.0 780.0,485.8 C781.7,484.6 782.4,485.4 783.6,485.2" fill="none" stroke="#1a1a1a" stroke-width="1.8" stroke-linecap="round" stroke-linejoin="round"/>
<path d="M777.4,489.9 C777.8,491.2 776.7,492.1 778.4,494.0 C780.1,495.9 781.2,495.0 782.5,495.5" fill="none" stroke="#1a1a1a" stroke-width="1.8" stroke-linecap="round" stroke-linejoin="round"/>
<path d="M761.0,507.3 C761.7,508.3 762.9,508.7 763.1,510.4 C763.2,512.1 762.0,511.7 761.5,512.4" fill="none" stroke="#1a1a1a" stroke-width="1.8" stroke-linecap="round" stroke-linejoin="round"/>
<path d="M733.32,516.53 L746.65,511.91" fill="none" stroke="#1a1a1a" stroke-width="1.8" stroke-linecap="round" stroke-linejoin="round"/>
<path d="M734.35,520.63 L748.19,515.71" fill="none" stroke="#1a1a1a" stroke-width="1.8" stroke-linecap="round" stroke-linejoin="round"/>
<path d="M733.3,516.5 C732.3,516.7 731.3,515.8 730.2,517.0 C729.2,518.2 728.7,518.9 730.0,520.1 C731.4,521.3 732.9,520.5 734.4,520.6" fill="none" stroke="#1a1a1a" stroke-width="1.8" stroke-linecap="round" stroke-linejoin="round"/>
<path d="M768.19,503.2 L781.0,498.07" fill="none" stroke="#1a1a1a" stroke-width="1.8" stroke-linecap="round" stroke-linejoin="round"/>
<path d="M769.21,506.48 L782.54,501.66" fill="none" stroke="#1a1a1a" stroke-width="1.8" stroke-linecap="round" stroke-linejoin="round"/>
<path d="M764.6,504.0 C767.2,506.1 767.3,504.8 772.3,510.4 C777.2,515.9 775.2,512.1 779.5,520.6 C783.7,529.2 783.2,530.9 785.0,536.0" fill="none" stroke="#1a1a1a" stroke-width="1.8" stroke-linecap="round" stroke-linejoin="round"/>
<path d="M767.2,504.2 C769.6,506.4 769.6,505.1 774.3,510.9 C779.1,516.7 777.6,513.6 781.5,521.6 C785.4,529.7 784.6,530.5 786.1,535.0" fill="none" stroke="#1a1a1a" stroke-width="1.4" stroke-linecap="round" stroke-linejoin="round"/>
<path d="M729.2,520.6 C732.0,522.7 732.6,521.7 737.4,526.8 C742.2,531.9 740.5,529.9 743.6,536.0 C746.7,542.2 745.6,542.2 746.6,545.2" fill="none" stroke="#1a1a1a" stroke-width="1.8" stroke-linecap="round" stroke-linejoin="round"/>
<path d="M713.8,519.1 C716.9,521.0 717.3,520.1 723.1,524.7 C728.9,529.3 727.2,528.1 731.3,532.9 C735.4,537.7 734.0,537.0 735.4,539.1" fill="none" stroke="#1a1a1a" stroke-width="1.4" stroke-linecap="round" stroke-linejoin="round"/>
<path d="M714.9,516.5 C715.5,516.2 712.1,513.5 716.9,515.5 C721.7,517.5 725.1,520.3 729.2,522.7" fill="none" stroke="#1a1a1a" stroke-width="1.8" stroke-linecap="round" stroke-linejoin="round"/>
<path d="M730.76,533.96 L737.42,529.04 L745.63,532.42 L762.03,521.65 L764.91,525.75 L751.78,534.98 L745.63,540.11 L735.37,538.06 Z" fill="none" stroke="#1a1a1a" stroke-width="1.8" stroke-linecap="round" stroke-linejoin="round"/>
<path d="M745.63,532.42 L745.63,540.11" fill="none" stroke="#1a1a1a" stroke-width="1.8" stroke-linecap="round" stroke-linejoin="round"/>
<path d="M751.78,524.73 L758.96,520.63 L759.98,516.53 L767.16,516.01 L767.67,518.06" fill="none" stroke="#1a1a1a" stroke-width="1.8" stroke-linecap="round" stroke-linejoin="round"/>
<path d="M753.83,523.7 L755.88,525.75" fill="none" stroke="#1a1a1a" stroke-width="1.8" stroke-linecap="round" stroke-linejoin="round"/>
<path d="M762.03,521.65 L768.19,545.24" fill="none" stroke="#1a1a1a" stroke-width="1.8" stroke-linecap="round" stroke-linejoin="round"/>
<path d="M764.91,525.75 L770.24,545.24" fill="none" stroke="#1a1a1a" stroke-width="1.8" stroke-linecap="round" stroke-linejoin="round"/>
<path d="M751.78,534.98 L750.75,545.24" fill="none" stroke="#1a1a1a" stroke-width="1.8" stroke-linecap="round" stroke-linejoin="round"/>
<path d="M746.65,537.03 L747.68,545.24" fill="none" stroke="#1a1a1a" stroke-width="1.8" stroke-linecap="round" stroke-linejoin="round"/>
<path d="M770.24,526.78 L785.0,517.55" fill="none" stroke="#1a1a1a" stroke-width="1.8" stroke-linecap="round" stroke-linejoin="round"/>
<path d="M771.26,530.88 L785.0,522.68" fill="none" stroke="#1a1a1a" stroke-width="1.8" stroke-linecap="round" stroke-linejoin="round"/>
<path d="M740.5,538.06 L739.99,545.24" fill="none" stroke="#1a1a1a" stroke-width="1.8" stroke-linecap="round" stroke-linejoin="round"/>
<path d="M743.58,540.11 L743.06,545.24" fill="none" stroke="#1a1a1a" stroke-width="1.8" stroke-linecap="round" stroke-linejoin="round"/>
<path d="M776.54,464.74 L787.51,460.33 L787.82,463.0 L791.41,468.33 L792.43,485.76" fill="none" stroke="#1a1a1a" stroke-width="1.7" stroke-linecap="round" stroke-linejoin="round"/>
<path d="M776.54,464.74 L777.56,475.0 L780.64,473.97 L779.92,466.07" fill="none" stroke="#1a1a1a" stroke-width="1.7" stroke-linecap="round" stroke-linejoin="round"/>
<path d="M779.92,466.07 L782.69,465.25 L784.74,480.64" fill="none" stroke="#1a1a1a" stroke-width="1.8" stroke-linecap="round" stroke-linejoin="round"/>
<path d="M782.69,465.25 L788.33,463.72" fill="none" stroke="#1a1a1a" stroke-width="1.8" stroke-linecap="round" stroke-linejoin="round"/>
<path d="M788.33,465.77 L790.18,483.71" fill="none" stroke="#1a1a1a" stroke-width="1.8" stroke-linecap="round" stroke-linejoin="round"/>
<path d="M818.07,497.86 L852.93,481.87" fill="none" stroke="#1a1a1a" stroke-width="1.8" stroke-linecap="round" stroke-linejoin="round"/>
<path d="M825.25,515.71 L862.67,498.07" fill="none" stroke="#1a1a1a" stroke-width="1.8" stroke-linecap="round" stroke-linejoin="round"/>
<path d="M852.9,481.9 C854.7,481.9 855.2,480.2 858.3,481.9 C861.3,483.5 860.2,483.1 862.2,486.8 C864.1,490.5 863.8,489.2 864.0,492.9 C864.2,496.7 863.1,496.4 862.7,498.1" fill="none" stroke="#1a1a1a" stroke-width="1.8" stroke-linecap="round" stroke-linejoin="round"/>
<path d="M781.65,476.72 L786.91,498.56" fill="none" stroke="#1a1a1a" stroke-width="1.8" stroke-linecap="round" stroke-linejoin="round"/>
<path d="M788.59,476.72 L792.51,502.47" fill="none" stroke="#1a1a1a" stroke-width="1.8" stroke-linecap="round" stroke-linejoin="round"/>
<path d="M793.07,478.96 L794.42,502.47" fill="none" stroke="#1a1a1a" stroke-width="1.8" stroke-linecap="round" stroke-linejoin="round"/>
<path d="M793.6,485.1 C796.4,486.2 796.6,484.6 802.0,488.5 C807.4,492.4 805.0,490.4 809.9,496.9 C814.7,503.4 812.7,500.2 816.6,508.1 C820.5,515.9 819.0,512.2 821.6,520.4 C824.2,528.6 823.5,528.6 824.4,532.7" fill="none" stroke="#1a1a1a" stroke-width="1.8" stroke-linecap="round" stroke-linejoin="round"/>
<path d="M794.2,488.5 C796.4,489.4 796.4,487.7 800.9,491.3 C805.4,494.8 803.1,492.8 807.6,499.1 C812.1,505.5 810.4,502.5 814.4,510.3 C818.3,518.1 816.8,514.8 819.4,522.6 C822.0,530.5 821.3,530.1 822.2,533.8" fill="none" stroke="#1a1a1a" stroke-width="1.4" stroke-linecap="round" stroke-linejoin="round"/>
<path d="M795.9,501.9 C798.3,506.2 799.8,506.0 803.1,514.8 C806.5,523.6 804.8,519.3 806.0,528.2 C807.1,537.2 807.1,534.2 806.5,541.7 C805.9,549.1 805.0,547.6 804.3,550.6" fill="none" stroke="#1a1a1a" stroke-width="1.8" stroke-linecap="round" stroke-linejoin="round"/>
<path d="M799.8,500.8 C802.0,505.5 803.3,505.6 806.5,514.8 C809.7,523.9 808.2,520.0 809.3,528.2 C810.4,536.4 809.7,535.7 809.9,539.4" fill="none" stroke="#1a1a1a" stroke-width="1.4" stroke-linecap="round" stroke-linejoin="round"/>
<path d="M761.7,499.1 C764.3,501.7 764.3,500.6 769.6,506.9 C774.8,513.3 772.5,509.6 777.4,518.1 C782.3,526.7 780.4,523.0 784.1,532.7 C787.9,542.4 786.7,540.5 788.6,547.3 C790.5,554.0 789.3,551.0 789.7,552.9" fill="none" stroke="#1a1a1a" stroke-width="1.8" stroke-linecap="round" stroke-linejoin="round"/>
<path d="M764.5,503.6 C766.9,506.2 766.9,505.1 771.8,511.4 C776.7,517.8 774.6,514.4 779.1,522.6 C783.6,530.8 782.0,527.5 785.2,536.1 C788.5,544.7 787.6,544.3 788.8,548.4" fill="none" stroke="#1a1a1a" stroke-width="1.4" stroke-linecap="round" stroke-linejoin="round"/>
<path d="M759.5,517.0 C761.7,520.8 762.5,520.0 766.2,528.2 C769.9,536.4 768.4,532.0 770.7,541.7 C772.9,551.4 772.0,547.6 772.9,557.4 C773.9,567.1 773.3,566.3 773.5,570.8" fill="none" stroke="#1a1a1a" stroke-width="1.8" stroke-linecap="round" stroke-linejoin="round"/>
<path d="M761.9,518.1 C764.1,522.3 764.8,521.9 768.4,530.5 C772.1,539.1 770.7,534.2 772.9,543.9 C775.2,553.6 774.2,550.6 775.2,559.6 C776.1,568.5 775.6,567.0 775.8,570.8" fill="none" stroke="#1a1a1a" stroke-width="1.4" stroke-linecap="round" stroke-linejoin="round"/>
<path d="M766.2,501.91 L779.08,496.32" fill="none" stroke="#1a1a1a" stroke-width="1.8" stroke-linecap="round" stroke-linejoin="round"/>
<path d="M768.44,506.95 L781.88,500.8" fill="none" stroke="#1a1a1a" stroke-width="1.8" stroke-linecap="round" stroke-linejoin="round"/>
<path d="M763.4,494.1 C765.5,493.0 764.9,491.5 769.6,490.7 C774.2,490.0 774.8,491.5 777.4,491.8" fill="none" stroke="#1a1a1a" stroke-width="1.8" stroke-linecap="round" stroke-linejoin="round"/>
<path d="M781.32,519.27 L799.23,508.63" fill="none" stroke="#1a1a1a" stroke-width="1.8" stroke-linecap="round" stroke-linejoin="round"/>
<path d="M783.56,525.43 L802.03,514.23" fill="none" stroke="#1a1a1a" stroke-width="1.8" stroke-linecap="round" stroke-linejoin="round"/>
<path d="M770.68,524.87 L781.32,519.27" fill="none" stroke="#1a1a1a" stroke-width="1.8" stroke-linecap="round" stroke-linejoin="round"/>
<path d="M771.8,529.91 L783.56,525.43" fill="none" stroke="#1a1a1a" stroke-width="1.8" stroke-linecap="round" stroke-linejoin="round"/>
<path d="M755.0,537.19 L767.32,531.03" fill="none" stroke="#1a1a1a" stroke-width="1.8" stroke-linecap="round" stroke-linejoin="round"/>
<path d="M755.0,542.79 L769.0,536.07" fill="none" stroke="#1a1a1a" stroke-width="1.8" stroke-linecap="round" stroke-linejoin="round"/>
<path d="M804.27,508.63 L813.23,504.71" fill="none" stroke="#1a1a1a" stroke-width="1.8" stroke-linecap="round" stroke-linejoin="round"/>
<path d="M805.39,512.55 L814.35,508.63" fill="none" stroke="#1a1a1a" stroke-width="1.8" stroke-linecap="round" stroke-linejoin="round"/>
<path d="M787.47,506.95 L792.51,503.59" fill="none" stroke="#1a1a1a" stroke-width="1.8" stroke-linecap="round" stroke-linejoin="round"/>
<path d="M791.95,541.67 L804.27,536.07" fill="none" stroke="#1a1a1a" stroke-width="1.8" stroke-linecap="round" stroke-linejoin="round"/>
<path d="M793.63,547.27 L805.39,541.67" fill="none" stroke="#1a1a1a" stroke-width="1.8" stroke-linecap="round" stroke-linejoin="round"/>
<path d="M814.4,499.7 C815.5,500.1 814.9,497.3 817.9,500.8 C821.0,504.3 820.6,504.9 823.5,510.3 C826.4,515.7 825.6,514.8 826.7,517.0" fill="none" stroke="#1a1a1a" stroke-width="1.8" stroke-linecap="round" stroke-linejoin="round"/>
<path d="M819.4,500.0 C821.1,502.7 821.8,502.8 824.6,508.1 C827.5,513.4 826.9,513.3 828.0,515.9" fill="none" stroke="#1a1a1a" stroke-width="1.4" stroke-linecap="round" stroke-linejoin="round"/>
<path d="M814.35,499.68 L819.39,497.44" fill="none" stroke="#1a1a1a" stroke-width="1.8" stroke-linecap="round" stroke-linejoin="round"/>
<ellipse cx="764.52" cy="499.68" rx="2.69" ry="2.91" transform="rotate(0 764.52 499.68)" fill="none" stroke="#1a1a1a" stroke-width="1.5"/>
<path d="M778.0,493.0 C778.3,491.3 777.2,490.0 779.1,487.9 C780.9,485.9 782.1,487.2 783.6,486.8" fill="none" stroke="#1a1a1a" stroke-width="1.8" stroke-linecap="round" stroke-linejoin="round"/>
<path d="M781.0,519.3 C781.6,517.7 782.7,517.2 784.3,517.6 C785.9,518.0 786.4,518.8 785.8,520.4 C785.2,522.0 784.0,522.8 782.4,522.4 C780.8,522.0 780.3,520.9 781.0,519.3 Z" fill="none" stroke="#1a1a1a" stroke-width="1.4" stroke-linecap="round" stroke-linejoin="round"/>
<path d="M798.1,500.2 C798.6,498.9 799.6,498.4 801.1,498.6 C802.6,498.7 803.1,499.5 802.6,500.8 C802.1,502.1 801.1,502.7 799.6,502.5 C798.1,502.3 797.6,501.5 798.1,500.2 Z" fill="none" stroke="#1a1a1a" stroke-width="1.4" stroke-linecap="round" stroke-linejoin="round"/>
<path d="M764.0,517.0 C764.4,515.6 765.3,515.2 766.8,515.4 C768.2,515.5 768.7,516.2 768.2,517.6 C767.7,519.0 766.7,519.7 765.3,519.5 C763.9,519.3 763.5,518.4 764.0,517.0 Z" fill="none" stroke="#1a1a1a" stroke-width="1.4" stroke-linecap="round" stroke-linejoin="round"/>
<path d="M805.95,525.99 L823.87,536.07" fill="none" stroke="#1a1a1a" stroke-width="1.8" stroke-linecap="round" stroke-linejoin="round"/>
<path d="M807.63,532.71 L828.91,548.39 L832.27,553.09" fill="none" stroke="#1a1a1a" stroke-width="1.8" stroke-linecap="round" stroke-linejoin="round"/>
<path d="M820.51,539.43 L831.15,533.83 L837.31,538.31 L826.67,544.47 Z" fill="none" stroke="#1a1a1a" stroke-width="1.8" stroke-linecap="round" stroke-linejoin="round"/>
<path d="M820.51,539.43 L821.07,541.89 L827.23,546.82 L837.31,540.77 L837.31,538.31" fill="none" stroke="#1a1a1a" stroke-width="1.8" stroke-linecap="round" stroke-linejoin="round"/>
<path d="M832.27,543.35 L833.39,553.09 L836.19,552.42 L835.63,541.67" fill="none" stroke="#1a1a1a" stroke-width="1.8" stroke-linecap="round" stroke-linejoin="round"/>
<ellipse cx="817.71" cy="528.23" rx="0.9" ry="0.9" transform="rotate(0 817.71 528.23)" fill="none" stroke="#1a1a1a" stroke-width="1.2"/>
<path d="M786.35,556.23 L796.43,551.19 L803.15,555.67 L793.07,561.27 Z" fill="none" stroke="#1a1a1a" stroke-width="1.8" stroke-linecap="round" stroke-linejoin="round"/>
<path d="M786.35,556.23 L787.03,558.69 L793.07,563.62 L803.15,558.02 L803.15,555.67" fill="none" stroke="#1a1a1a" stroke-width="1.8" stroke-linecap="round" stroke-linejoin="round"/>
<path d="M771.8,542.79 L786.35,555.67" fill="none" stroke="#1a1a1a" stroke-width="1.8" stroke-linecap="round" stroke-linejoin="round"/>
<path d="M772.92,548.39 L788.59,562.05" fill="none" stroke="#1a1a1a" stroke-width="1.8" stroke-linecap="round" stroke-linejoin="round"/>
<path d="M796.99,560.93 L799.79,570.78" fill="none" stroke="#1a1a1a" stroke-width="1.8" stroke-linecap="round" stroke-linejoin="round"/>
<path d="M800.35,559.59 L803.38,570.78" fill="none" stroke="#1a1a1a" stroke-width="1.8" stroke-linecap="round" stroke-linejoin="round"/>
<path d="M811.0,548.4 C812.7,549.2 812.9,551.2 816.0,550.9 C819.2,550.5 819.0,548.5 820.5,547.3" fill="none" stroke="#1a1a1a" stroke-width="1.8" stroke-linecap="round" stroke-linejoin="round"/>
<path d="M807.6,540.0 C809.5,540.5 809.9,542.2 813.2,541.7 C816.6,541.1 816.2,539.4 817.7,538.3" fill="none" stroke="#1a1a1a" stroke-width="1.8" stroke-linecap="round" stroke-linejoin="round"/>
<path d="M797.05,561.15 L800.43,574.48" fill="none" stroke="#1a1a1a" stroke-width="1.8" stroke-linecap="round" stroke-linejoin="round"/>
<path d="M801.15,559.61 L804.53,572.12" fill="none" stroke="#1a1a1a" stroke-width="1.8" stroke-linecap="round" stroke-linejoin="round"/>
<path d="M790.38,564.74 L791.92,579.09 L795.51,584.22" fill="none" stroke="#1a1a1a" stroke-width="1.8" stroke-linecap="round" stroke-linejoin="round"/>
<path d="M795.51,566.79 L796.53,576.02" fill="none" stroke="#1a1a1a" stroke-width="1.8" stroke-linecap="round" stroke-linejoin="round"/>
<path d="M799.1,578.58 L809.35,573.45 L815.5,584.22 L804.74,590.37 Z" fill="none" stroke="#1a1a1a" stroke-width="1.8" stroke-linecap="round" stroke-linejoin="round"/>
<path d="M799.1,578.58 L797.76,580.63 L803.51,592.01 L804.74,590.37" fill="none" stroke="#1a1a1a" stroke-width="1.8" stroke-linecap="round" stroke-linejoin="round"/>
<path d="M803.51,592.01 L814.48,586.07 L815.5,584.22" fill="none" stroke="#1a1a1a" stroke-width="1.8" stroke-linecap="round" stroke-linejoin="round"/>
<ellipse cx="804.74" cy="570.68" rx="1.44" ry="1.64" transform="rotate(0 804.74 570.68)" fill="none" stroke="#1a1a1a" stroke-width="1.2"/>
<path d="M773.97,590.37 L781.67,599.81 L773.97,605.24" fill="none" stroke="#1a1a1a" stroke-width="1.8" stroke-linecap="round" stroke-linejoin="round"/>
<path d="M774.0,564.7 C776.4,565.8 777.4,568.0 781.1,568.0 C784.9,568.1 783.9,566.0 785.2,564.9" fill="none" stroke="#1a1a1a" stroke-width="1.8" stroke-linecap="round" stroke-linejoin="round"/>
<path d="M774.0,568.8 C776.0,569.4 776.5,570.7 780.1,570.4 C783.7,570.0 783.2,568.7 784.7,567.8" fill="none" stroke="#1a1a1a" stroke-width="1.8" stroke-linecap="round" stroke-linejoin="round"/>
</g>
<g id="stars">
<path d="M198.1,764.2 L198.1,706.2 L202.2,706.2 L202.2,767.2" fill="#fff" stroke="#222" stroke-width="1.35"/><path d="M202.2,753.6 L206.3,753.6 L206.3,764.2" fill="none" stroke="#222" stroke-width="1.35"/><path d="M202.4,795.2 L202.4,856 L206.3,856 L206.3,798.2" fill="#fff" stroke="#222" stroke-width="1.35"/><path d="M202.4,808 L198.4,808 L198.4,798.2" fill="none" stroke="#222" stroke-width="1.35"/>
<circle cx="201.9" cy="781.2" r="18.0" fill="#fff" stroke="#222" stroke-width="1.5"/><circle cx="201.9" cy="781.2" r="14.3" fill="#fff" stroke="#222" stroke-width="1.3"/><path d="M202.2,763.2 L202.2,767.7 M202.4,799.2 L202.4,794.7" fill="none" stroke="#222" stroke-width="1.1"/>
<path d="M376.9,766.2 L376.9,704.2 L380.8,704.2 L380.8,769.2" fill="#fff" stroke="#222" stroke-width="1.35"/><path d="M380.8,752.3 L384.8,752.3 L384.8,766.2" fill="none" stroke="#222" stroke-width="1.35"/><path d="M380.9,797.2 L380.9,862.5 L384.3,862.5 L384.3,800.2" fill="#fff" stroke="#222" stroke-width="1.35"/><path d="M380.9,814.5 L376.9,814.5 L376.9,800.2" fill="none" stroke="#222" stroke-width="1.35"/><path d="M376.9,714.7 L380.8,714.7 M380.9,852.0 L384.3,852.0" fill="none" stroke="#222" stroke-width="0.8"/>
<path d="M18.2,-2.1 L78.8,-2.1 L78.8,2.1 L18.2,2.1" fill="#fff" stroke="#222" stroke-width="1.35" stroke-linejoin="miter" transform="translate(381.6 782.8000000000001) rotate(0)"/><path d="M68.3,-2.1 L68.3,2.1" fill="none" stroke="#222" stroke-width="0.8" transform="translate(381.6 782.8000000000001) rotate(0)"/>
<path d="M18.2,-2.1 L79.9,-2.1 L79.9,2.1 L18.2,2.1" fill="#fff" stroke="#222" stroke-width="1.35" stroke-linejoin="miter" transform="translate(381.6 782.8000000000001) rotate(180)"/><path d="M69.4,-2.1 L69.4,2.1" fill="none" stroke="#222" stroke-width="0.8" transform="translate(381.6 782.8000000000001) rotate(180)"/>
<circle cx="381.6" cy="783.2" r="18.3" fill="#fff" stroke="#222" stroke-width="1.5"/><circle cx="381.6" cy="783.2" r="14.8" fill="#fff" stroke="#222" stroke-width="1.3"/><path d="M380.8,764.9000000000001 L380.8,769.2 M380.9,801.5 L380.9,797.2" fill="none" stroke="#222" stroke-width="1.1"/>
<path d="M572.9,768.6 L572.9,706.8 L577.2,706.8 L577.2,771.6" fill="#fff" stroke="#222" stroke-width="1.35"/><path d="M577.2,754.8 L581.3,754.8 L581.3,768.6" fill="none" stroke="#222" stroke-width="1.35"/><path d="M577.3,799.6 L577.3,864.3 L580.8,864.3 L580.8,802.6" fill="#fff" stroke="#222" stroke-width="1.35"/><path d="M577.3,817 L572.9,817 L572.9,802.6" fill="none" stroke="#222" stroke-width="1.35"/><path d="M572.9,717.3 L577.2,717.3 M577.3,853.8 L580.8,853.8" fill="none" stroke="#222" stroke-width="0.8"/>
<path d="M18.2,-2.1 L78.5,-2.1 L78.5,2.1 L18.2,2.1" fill="#fff" stroke="#222" stroke-width="1.35" stroke-linejoin="miter" transform="translate(576.9 785.6) rotate(-30)"/><path d="M71.5,-2.1 L71.5,2.1" fill="none" stroke="#222" stroke-width="0.8" transform="translate(576.9 785.6) rotate(-30)"/>
<path d="M18.2,-2.1 L78.5,-2.1 L78.5,2.1 L18.2,2.1" fill="#fff" stroke="#222" stroke-width="1.35" stroke-linejoin="miter" transform="translate(576.9 785.6) rotate(30)"/><path d="M71.5,-2.1 L71.5,2.1" fill="none" stroke="#222" stroke-width="0.8" transform="translate(576.9 785.6) rotate(30)"/>
<path d="M18.2,-2.1 L78.5,-2.1 L78.5,2.1 L18.2,2.1" fill="#fff" stroke="#222" stroke-width="1.35" stroke-linejoin="miter" transform="translate(576.9 785.6) rotate(150)"/><path d="M71.5,-2.1 L71.5,2.1" fill="none" stroke="#222" stroke-width="0.8" transform="translate(576.9 785.6) rotate(150)"/>
<path d="M18.2,-2.1 L78.5,-2.1 L78.5,2.1 L18.2,2.1" fill="#fff" stroke="#222" stroke-width="1.35" stroke-linejoin="miter" transform="translate(576.9 785.6) rotate(210)"/><path d="M71.5,-2.1 L71.5,2.1" fill="none" stroke="#222" stroke-width="0.8" transform="translate(576.9 785.6) rotate(210)"/>
<circle cx="577.3" cy="785.6" r="18.1" fill="#fff" stroke="#222" stroke-width="1.5"/><circle cx="577.3" cy="785.6" r="14.8" fill="#fff" stroke="#222" stroke-width="1.3"/><path d="M577.2,767.5 L577.2,771.6 M577.3,803.7 L577.3,799.6" fill="none" stroke="#222" stroke-width="1.1"/>
<path d="M777.9,766.6 L777.9,704.2 L782.2,704.2 L782.2,769.6" fill="#fff" stroke="#222" stroke-width="1.35"/><path d="M782.2,752.8 L786.3,752.8 L786.3,766.6" fill="none" stroke="#222" stroke-width="1.35"/><path d="M782.6,797.6 L782.6,863.3 L786.3,863.3 L786.3,800.6" fill="#fff" stroke="#222" stroke-width="1.35"/><path d="M782.6,815 L778.3,815 L778.3,800.6" fill="none" stroke="#222" stroke-width="1.35"/><path d="M777.9,714.7 L782.2,714.7 M782.6,852.8 L786.3,852.8" fill="none" stroke="#222" stroke-width="0.8"/>
<path d="M18.2,-2.1 L79.3,-2.1 L79.3,2.1 L18.2,2.1" fill="#fff" stroke="#222" stroke-width="1.35" stroke-linejoin="miter" transform="translate(782.2 783.6) rotate(0)"/><path d="M68.8,-2.1 L68.8,2.1" fill="none" stroke="#222" stroke-width="0.8" transform="translate(782.2 783.6) rotate(0)"/>
<path d="M18.2,-2.1 L79.3,-2.1 L79.3,2.1 L18.2,2.1" fill="#fff" stroke="#222" stroke-width="1.35" stroke-linejoin="miter" transform="translate(782.2 783.6) rotate(180)"/><path d="M68.8,-2.1 L68.8,2.1" fill="none" stroke="#222" stroke-width="0.8" transform="translate(782.2 783.6) rotate(180)"/>
<path d="M18.2,-2.1 L79,-2.1 L79,2.1 L18.2,2.1" fill="#fff" stroke="#222" stroke-width="1.35" stroke-linejoin="miter" transform="translate(782.2 783.6) rotate(-45)"/><path d="M72,-2.1 L72,2.1" fill="none" stroke="#222" stroke-width="0.8" transform="translate(782.2 783.6) rotate(-45)"/>
<path d="M18.2,-2.1 L79,-2.1 L79,2.1 L18.2,2.1" fill="#fff" stroke="#222" stroke-width="1.35" stroke-linejoin="miter" transform="translate(782.2 783.6) rotate(45)"/><path d="M72,-2.1 L72,2.1" fill="none" stroke="#222" stroke-width="0.8" transform="translate(782.2 783.6) rotate(45)"/>
<path d="M18.2,-2.1 L79,-2.1 L79,2.1 L18.2,2.1" fill="#fff" stroke="#222" stroke-width="1.35" stroke-linejoin="miter" transform="translate(782.2 783.6) rotate(135)"/><path d="M72,-2.1 L72,2.1" fill="none" stroke="#222" stroke-width="0.8" transform="translate(782.2 783.6) rotate(135)"/>
<path d="M18.2,-2.1 L79,-2.1 L79,2.1 L18.2,2.1" fill="#fff" stroke="#222" stroke-width="1.35" stroke-linejoin="miter" transform="translate(782.2 783.6) rotate(225)"/><path d="M72,-2.1 L72,2.1" fill="none" stroke="#222" stroke-width="0.8" transform="translate(782.2 783.6) rotate(225)"/>
<circle cx="782.2" cy="783.6" r="18.3" fill="#fff" stroke="#222" stroke-width="1.5"/><circle cx="782.2" cy="783.6" r="14.9" fill="#fff" stroke="#222" stroke-width="1.3"/><path d="M782.2,765.3000000000001 L782.2,769.5 M782.6,801.9 L782.6,797.7" fill="none" stroke="#222" stroke-width="1.1"/>
</g>
</svg>
</body></html>
